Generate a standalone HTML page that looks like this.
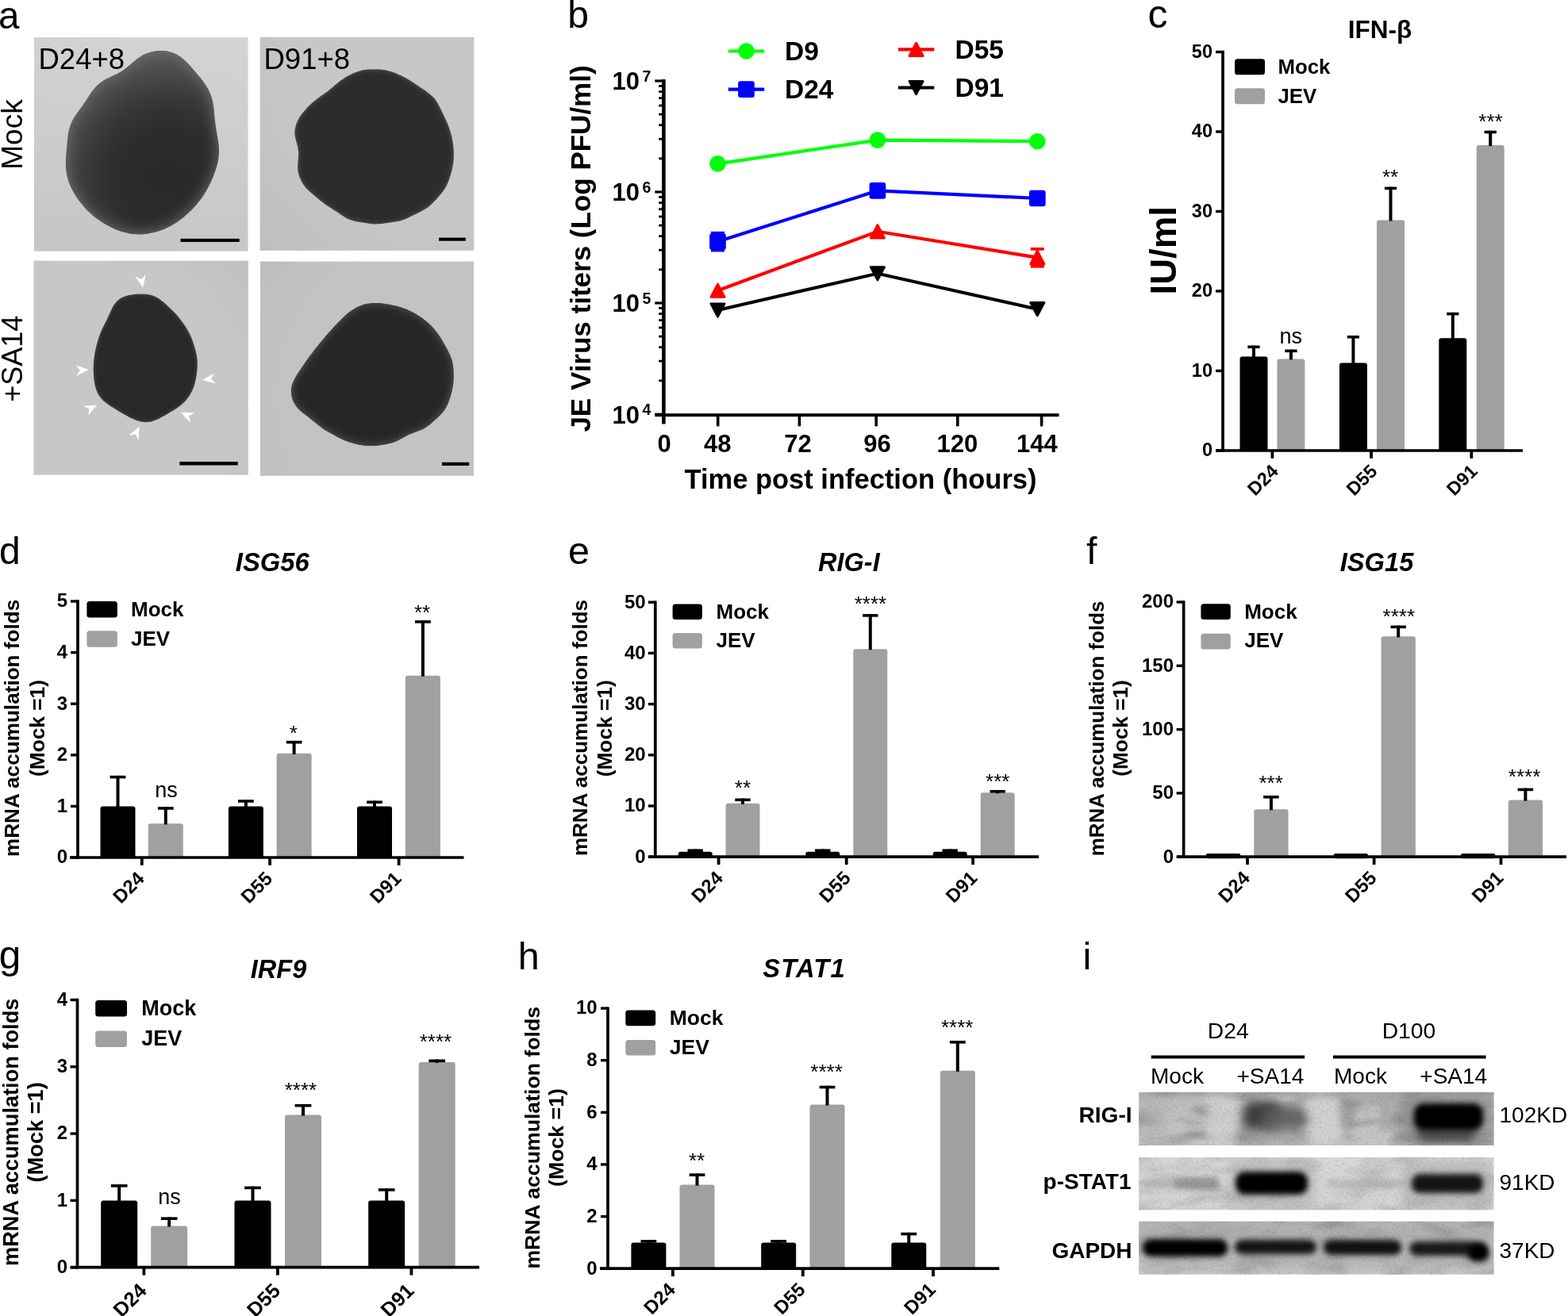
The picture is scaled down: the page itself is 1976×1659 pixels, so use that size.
<!DOCTYPE html>
<html><head><meta charset="utf-8"><title>Figure</title>
<style>html,body{margin:0;padding:0;background:#fff;overflow:hidden}svg{display:block}</style>
</head><body>
<svg width="1976" height="1659" viewBox="0 0 1976 1659" font-family="'Liberation Sans', Arial, Helvetica, sans-serif">
<defs><filter id="fe" x="-5%" y="-5%" width="110%" height="110%" color-interpolation-filters="sRGB"><feGaussianBlur stdDeviation="0.7"/></filter>
<filter id="fr" x="-20%" y="-20%" width="140%" height="140%"><feGaussianBlur stdDeviation="3.5"/></filter>
<radialGradient id="tlov" gradientUnits="userSpaceOnUse" cx="212" cy="225" r="165"><stop offset="0" stop-color="#282828"/><stop offset="0.4" stop-color="#2c2c2c"/><stop offset="0.62" stop-color="#383838"/><stop offset="0.8" stop-color="#4a4a4a"/><stop offset="1" stop-color="#5e5e5e"/></radialGradient>
<filter id="fn" x="0" y="0" width="100%" height="100%"><feTurbulence type="fractalNoise" baseFrequency="0.9" numOctaves="2" seed="3"/><feColorMatrix type="matrix" values="0 0 0 0 0.5  0 0 0 0 0.5  0 0 0 0 0.5  0 0 0 0.06 0"/></filter>
<linearGradient id="gA1" gradientUnits="userSpaceOnUse" x1="200" y1="47" x2="160" y2="317"><stop offset="0" stop-color="#d3d3d3"/><stop offset="1" stop-color="#c6c6c6"/></linearGradient>
<clipPath id="cA1"><path d="M189.59,65.69C191.13,65.28 192.71,64.94 194.29,64.67C195.88,64.41 197.49,64.22 199.1,64.1C200.7,63.99 202.32,63.95 203.91,63.99C205.51,64.03 207.1,64.14 208.66,64.33C210.22,64.53 211.76,64.8 213.26,65.15C214.76,65.51 216.24,65.94 217.67,66.46C219.1,66.97 220.49,67.57 221.84,68.24C223.2,68.92 224.51,69.68 225.78,70.5C227.06,71.32 228.29,72.23 229.5,73.18C230.71,74.14 231.88,75.17 233.03,76.23C234.18,77.29 235.29,78.41 236.4,79.55C237.5,80.69 238.58,81.87 239.65,83.06C240.72,84.24 241.77,85.45 242.82,86.66C243.87,87.87 244.9,89.09 245.93,90.31C246.97,91.52 247.99,92.74 249,93.95C250.02,95.17 251.03,96.38 252.02,97.6C253.01,98.82 253.99,100.03 254.94,101.27C255.89,102.51 256.83,103.75 257.73,105.02C258.62,106.29 259.5,107.58 260.32,108.9C261.13,110.23 261.92,111.57 262.64,112.96C263.37,114.34 264.04,115.76 264.66,117.21C265.27,118.66 265.83,120.14 266.32,121.65C266.82,123.16 267.25,124.7 267.63,126.25C268.01,127.8 268.33,129.38 268.61,130.96C268.89,132.54 269.11,134.14 269.31,135.73C269.52,137.32 269.67,138.91 269.83,140.49C269.99,142.08 270.11,143.66 270.26,145.23C270.4,146.8 270.53,148.36 270.68,149.91C270.83,151.47 270.99,153.01 271.18,154.55C271.36,156.1 271.57,157.63 271.79,159.17C272.02,160.71 272.27,162.24 272.53,163.79C272.79,165.33 273.07,166.88 273.35,168.44C273.63,169.99 273.92,171.55 274.19,173.13C274.46,174.7 274.73,176.28 274.96,177.86C275.19,179.44 275.41,181.03 275.57,182.62C275.73,184.21 275.86,185.8 275.93,187.38C276,188.97 276.02,190.55 275.98,192.13C275.95,193.7 275.85,195.27 275.7,196.83C275.55,198.38 275.34,199.93 275.08,201.47C274.81,203.01 274.49,204.53 274.14,206.05C273.78,207.57 273.37,209.07 272.92,210.58C272.48,212.08 272,213.57 271.49,215.06C270.98,216.55 270.44,218.03 269.87,219.5C269.31,220.98 268.72,222.45 268.11,223.92C267.5,225.38 266.86,226.84 266.21,228.29C265.56,229.74 264.88,231.19 264.19,232.62C263.49,234.05 262.77,235.47 262.02,236.87C261.28,238.27 260.51,239.66 259.71,241.02C258.92,242.39 258.1,243.73 257.25,245.06C256.4,246.38 255.52,247.69 254.61,248.97C253.71,250.25 252.78,251.51 251.82,252.75C250.86,254 249.88,255.21 248.87,256.42C247.86,257.62 246.83,258.8 245.78,259.97C244.72,261.13 243.65,262.28 242.55,263.41C241.46,264.55 240.34,265.66 239.21,266.76C238.07,267.86 236.92,268.94 235.75,270.01C234.57,271.07 233.38,272.11 232.17,273.13C230.95,274.15 229.72,275.15 228.47,276.12C227.22,277.09 225.94,278.03 224.65,278.94C223.36,279.85 222.04,280.73 220.71,281.57C219.38,282.42 218.02,283.23 216.65,284C215.28,284.77 213.89,285.51 212.48,286.21C211.07,286.9 209.64,287.57 208.2,288.19C206.76,288.82 205.31,289.4 203.84,289.95C202.37,290.5 200.88,291.02 199.38,291.49C197.89,291.97 196.38,292.4 194.86,292.8C193.34,293.2 191.81,293.56 190.27,293.87C188.73,294.18 187.18,294.45 185.62,294.68C184.07,294.9 182.5,295.08 180.93,295.2C179.36,295.33 177.79,295.4 176.21,295.42C174.64,295.44 173.05,295.41 171.48,295.33C169.9,295.24 168.33,295.09 166.76,294.9C165.19,294.7 163.63,294.45 162.08,294.16C160.52,293.86 158.98,293.5 157.45,293.11C155.92,292.72 154.4,292.27 152.9,291.8C151.4,291.32 149.92,290.79 148.45,290.24C146.98,289.68 145.52,289.09 144.09,288.47C142.65,287.85 141.23,287.19 139.82,286.51C138.41,285.83 137.02,285.11 135.64,284.37C134.27,283.63 132.9,282.85 131.55,282.05C130.2,281.25 128.87,280.42 127.55,279.55C126.23,278.69 124.93,277.8 123.64,276.87C122.36,275.95 121.09,274.99 119.84,274.01C118.59,273.02 117.36,272.01 116.16,270.96C114.96,269.92 113.78,268.85 112.63,267.76C111.48,266.66 110.35,265.54 109.25,264.4C108.15,263.27 107.08,262.1 106.04,260.93C105,259.75 103.99,258.55 103,257.34C102.01,256.12 101.06,254.89 100.12,253.64C99.19,252.4 98.28,251.13 97.4,249.85C96.52,248.56 95.67,247.26 94.84,245.93C94.02,244.61 93.21,243.26 92.45,241.89C91.68,240.52 90.94,239.12 90.24,237.7C89.54,236.28 88.88,234.84 88.26,233.38C87.65,231.91 87.07,230.42 86.55,228.91C86.03,227.41 85.56,225.88 85.15,224.35C84.74,222.81 84.38,221.25 84.08,219.7C83.79,218.15 83.55,216.58 83.37,215.02C83.19,213.45 83.07,211.89 82.99,210.32C82.92,208.76 82.9,207.2 82.91,205.65C82.91,204.09 82.97,202.54 83.04,200.98C83.11,199.43 83.21,197.88 83.32,196.33C83.42,194.78 83.55,193.22 83.67,191.66C83.79,190.1 83.92,188.54 84.05,186.97C84.18,185.39 84.31,183.81 84.44,182.22C84.58,180.64 84.72,179.04 84.88,177.45C85.04,175.86 85.2,174.25 85.4,172.67C85.61,171.08 85.83,169.49 86.11,167.92C86.39,166.35 86.7,164.79 87.08,163.27C87.47,161.74 87.9,160.23 88.4,158.76C88.9,157.28 89.47,155.84 90.09,154.43C90.72,153.02 91.42,151.64 92.17,150.29C92.91,148.94 93.72,147.63 94.56,146.32C95.4,145.02 96.3,143.75 97.2,142.47C98.1,141.2 99.04,139.94 99.97,138.67C100.9,137.4 101.84,136.14 102.77,134.86C103.7,133.58 104.62,132.29 105.52,130.98C106.43,129.67 107.32,128.35 108.2,127.02C109.07,125.69 109.93,124.34 110.8,123.01C111.66,121.67 112.51,120.32 113.39,119C114.26,117.68 115.14,116.37 116.06,115.1C116.98,113.83 117.92,112.59 118.92,111.4C119.92,110.22 120.95,109.08 122.05,108C123.15,106.93 124.3,105.91 125.51,104.95C126.72,103.99 128,103.1 129.32,102.25C130.63,101.41 132.01,100.63 133.41,99.86C134.81,99.1 136.27,98.4 137.72,97.68C139.17,96.97 140.65,96.3 142.11,95.59C143.57,94.89 145.05,94.2 146.48,93.46C147.91,92.72 149.34,91.97 150.72,91.17C152.1,90.38 153.45,89.54 154.76,88.67C156.08,87.8 157.35,86.88 158.6,85.93C159.84,84.99 161.05,84 162.25,83C163.45,82.01 164.62,80.97 165.8,79.96C166.98,78.95 168.14,77.92 169.33,76.93C170.52,75.94 171.72,74.96 172.96,74.03C174.19,73.11 175.45,72.21 176.76,71.38C178.06,70.56 179.4,69.78 180.79,69.07C182.18,68.37 183.61,67.73 185.07,67.17C186.54,66.6 188.06,66.11 189.59,65.69Z"/></clipPath>
<filter id="fbA1" x="-10%" y="-10%" width="120%" height="120%" color-interpolation-filters="sRGB"><feGaussianBlur stdDeviation="9"/></filter>
<radialGradient id="gA2" gradientUnits="userSpaceOnUse" cx="560" cy="90" r="420"><stop offset="0" stop-color="#c7c7c7"/><stop offset="0.45" stop-color="#c7c7c7"/><stop offset="1" stop-color="#b8b8b8"/></radialGradient>
<clipPath id="cA2"><path d="M471.14,87.38C472.63,87.39 474.14,87.43 475.63,87.5C477.13,87.57 478.62,87.66 480.1,87.8C481.58,87.94 483.05,88.1 484.5,88.33C485.95,88.55 487.39,88.82 488.81,89.15C490.23,89.48 491.63,89.86 493.03,90.29C494.42,90.73 495.81,91.22 497.18,91.75C498.56,92.28 499.93,92.86 501.29,93.45C502.66,94.05 504.02,94.69 505.36,95.33C506.7,95.98 508.04,96.65 509.35,97.34C510.66,98.03 511.96,98.73 513.24,99.46C514.52,100.19 515.78,100.94 517.02,101.71C518.27,102.49 519.49,103.28 520.71,104.09C521.94,104.9 523.15,105.74 524.37,106.57C525.59,107.41 526.81,108.26 528.05,109.1C529.28,109.94 530.52,110.78 531.76,111.62C533,112.45 534.26,113.28 535.49,114.12C536.71,114.96 537.95,115.79 539.13,116.67C540.31,117.55 541.48,118.43 542.58,119.38C543.68,120.33 544.74,121.31 545.73,122.36C546.72,123.41 547.65,124.52 548.52,125.69C549.4,126.85 550.21,128.08 550.99,129.34C551.76,130.6 552.48,131.91 553.18,133.23C553.89,134.54 554.55,135.89 555.21,137.22C555.88,138.55 556.52,139.89 557.16,141.22C557.81,142.55 558.44,143.87 559.08,145.19C559.71,146.51 560.34,147.82 560.96,149.15C561.58,150.48 562.19,151.81 562.78,153.16C563.37,154.52 563.95,155.89 564.49,157.27C565.04,158.66 565.56,160.07 566.06,161.48C566.55,162.9 567.01,164.33 567.44,165.75C567.87,167.18 568.27,168.61 568.64,170.03C569.01,171.46 569.35,172.88 569.65,174.3C569.96,175.72 570.23,177.14 570.47,178.58C570.72,180.01 570.93,181.45 571.11,182.9C571.29,184.36 571.44,185.83 571.55,187.31C571.66,188.8 571.74,190.3 571.79,191.8C571.83,193.3 571.84,194.81 571.81,196.31C571.78,197.8 571.71,199.3 571.6,200.77C571.49,202.24 571.35,203.7 571.16,205.14C570.98,206.58 570.75,208 570.49,209.42C570.24,210.84 569.94,212.24 569.61,213.66C569.29,215.08 568.92,216.5 568.53,217.93C568.15,219.35 567.73,220.8 567.28,222.23C566.83,223.67 566.35,225.12 565.84,226.53C565.33,227.95 564.78,229.36 564.2,230.73C563.61,232.09 562.99,233.43 562.31,234.71C561.64,236 560.92,237.24 560.15,238.44C559.39,239.65 558.57,240.81 557.71,241.96C556.85,243.11 555.94,244.22 555,245.35C554.07,246.47 553.09,247.59 552.09,248.71C551.1,249.82 550.07,250.95 549.04,252.06C548.01,253.16 546.96,254.27 545.89,255.34C544.83,256.4 543.75,257.44 542.65,258.42C541.55,259.39 540.44,260.32 539.29,261.19C538.14,262.05 536.97,262.84 535.75,263.6C534.54,264.35 533.29,265.04 532.02,265.72C530.74,266.41 529.42,267.04 528.09,267.7C526.76,268.36 525.4,269.01 524.04,269.68C522.68,270.35 521.31,271.04 519.95,271.72C518.6,272.39 517.24,273.09 515.9,273.75C514.55,274.4 513.22,275.05 511.89,275.63C510.55,276.21 509.22,276.76 507.87,277.23C506.52,277.7 505.17,278.1 503.78,278.45C502.39,278.81 500.98,279.08 499.54,279.35C498.1,279.62 496.63,279.83 495.14,280.06C493.66,280.28 492.14,280.49 490.64,280.7C489.13,280.91 487.61,281.14 486.11,281.34C484.62,281.55 483.13,281.77 481.66,281.93C480.19,282.1 478.75,282.26 477.31,282.35C475.88,282.43 474.47,282.47 473.04,282.45C471.62,282.43 470.2,282.33 468.76,282.2C467.32,282.07 465.87,281.87 464.4,281.67C462.93,281.46 461.43,281.21 459.93,280.97C458.43,280.74 456.91,280.49 455.41,280.25C453.9,280 452.39,279.77 450.92,279.51C449.45,279.25 448,278.99 446.59,278.67C445.17,278.34 443.8,277.99 442.46,277.55C441.12,277.1 439.82,276.6 438.54,276C437.25,275.4 436,274.71 434.74,273.97C433.49,273.23 432.25,272.39 430.99,271.55C429.74,270.71 428.48,269.81 427.22,268.95C425.96,268.08 424.68,267.2 423.42,266.36C422.15,265.52 420.88,264.7 419.63,263.9C418.39,263.1 417.14,262.34 415.92,261.56C414.7,260.79 413.5,260.03 412.31,259.23C411.13,258.43 409.96,257.62 408.79,256.76C407.63,255.91 406.47,255.01 405.31,254.09C404.15,253.16 402.98,252.19 401.82,251.22C400.65,250.25 399.47,249.25 398.3,248.27C397.13,247.29 395.95,246.3 394.8,245.33C393.66,244.36 392.51,243.41 391.41,242.44C390.32,241.47 389.24,240.52 388.22,239.52C387.2,238.52 386.22,237.52 385.29,236.44C384.37,235.37 383.49,234.25 382.67,233.07C381.85,231.89 381.07,230.64 380.36,229.34C379.65,228.04 378.98,226.67 378.4,225.29C377.81,223.9 377.28,222.46 376.85,221.03C376.41,219.6 376.05,218.14 375.78,216.7C375.51,215.25 375.34,213.81 375.24,212.37C375.15,210.93 375.16,209.5 375.21,208.06C375.25,206.62 375.4,205.19 375.52,203.74C375.64,202.29 375.83,200.84 375.94,199.37C376.05,197.9 376.17,196.42 376.18,194.95C376.19,193.47 376.15,191.98 376.01,190.52C375.88,189.05 375.64,187.58 375.36,186.14C375.08,184.69 374.7,183.27 374.33,181.84C373.96,180.42 373.51,179.02 373.15,177.61C372.78,176.2 372.4,174.8 372.13,173.37C371.87,171.95 371.65,170.51 371.56,169.06C371.47,167.61 371.48,166.14 371.6,164.67C371.73,163.2 371.97,161.71 372.3,160.25C372.63,158.79 373.08,157.33 373.58,155.92C374.09,154.51 374.7,153.13 375.34,151.8C375.99,150.47 376.71,149.19 377.47,147.95C378.23,146.71 379.04,145.53 379.88,144.36C380.73,143.2 381.62,142.07 382.54,140.96C383.46,139.84 384.42,138.74 385.41,137.65C386.41,136.56 387.43,135.47 388.49,134.4C389.54,133.33 390.62,132.27 391.72,131.24C392.82,130.21 393.95,129.2 395.08,128.22C396.22,127.25 397.38,126.32 398.54,125.41C399.7,124.51 400.88,123.65 402.06,122.8C403.24,121.95 404.44,121.14 405.63,120.3C406.82,119.47 408.02,118.65 409.21,117.79C410.4,116.94 411.6,116.07 412.78,115.16C413.96,114.26 415.14,113.32 416.3,112.37C417.46,111.41 418.61,110.42 419.75,109.45C420.89,108.48 422.02,107.48 423.15,106.53C424.29,105.57 425.41,104.62 426.55,103.71C427.7,102.8 428.85,101.92 430.02,101.07C431.2,100.22 432.4,99.41 433.63,98.63C434.86,97.84 436.12,97.09 437.4,96.36C438.69,95.63 440,94.92 441.34,94.24C442.67,93.57 444.03,92.91 445.4,92.31C446.77,91.71 448.16,91.14 449.55,90.63C450.94,90.13 452.34,89.67 453.75,89.28C455.15,88.9 456.56,88.57 457.99,88.31C459.42,88.05 460.85,87.86 462.3,87.72C463.75,87.57 465.21,87.49 466.69,87.43C468.16,87.37 469.65,87.37 471.14,87.38Z"/></clipPath>
<filter id="fbA2" x="-10%" y="-10%" width="120%" height="120%" color-interpolation-filters="sRGB"><feGaussianBlur stdDeviation="3"/></filter>
<radialGradient id="gA3" gradientUnits="userSpaceOnUse" cx="100" cy="520" r="420"><stop offset="0" stop-color="#c7c7c7"/><stop offset="0.45" stop-color="#c7c7c7"/><stop offset="1" stop-color="#b8b8b8"/></radialGradient>
<clipPath id="cA3"><path d="M176.47,370.7C177.56,370.67 178.66,370.65 179.75,370.67C180.84,370.68 181.94,370.72 183.03,370.81C184.12,370.89 185.21,371.01 186.29,371.17C187.37,371.34 188.45,371.55 189.5,371.82C190.56,372.08 191.6,372.4 192.62,372.76C193.64,373.13 194.65,373.55 195.62,374.02C196.6,374.48 197.56,375 198.5,375.55C199.43,376.1 200.34,376.71 201.24,377.33C202.13,377.95 203.01,378.61 203.87,379.28C204.73,379.95 205.58,380.64 206.42,381.35C207.26,382.05 208.08,382.77 208.91,383.49C209.73,384.21 210.54,384.95 211.35,385.68C212.16,386.42 212.97,387.16 213.77,387.91C214.56,388.66 215.35,389.41 216.14,390.18C216.92,390.94 217.69,391.71 218.45,392.49C219.21,393.28 219.97,394.07 220.71,394.87C221.44,395.68 222.17,396.49 222.89,397.32C223.6,398.14 224.31,398.98 225,399.82C225.69,400.67 226.37,401.53 227.04,402.39C227.72,403.25 228.38,404.12 229.03,405C229.69,405.88 230.33,406.76 230.96,407.65C231.6,408.55 232.22,409.44 232.83,410.35C233.44,411.26 234.04,412.17 234.63,413.1C235.21,414.02 235.78,414.95 236.32,415.89C236.87,416.84 237.4,417.79 237.91,418.76C238.41,419.72 238.9,420.7 239.36,421.69C239.83,422.67 240.27,423.67 240.69,424.68C241.12,425.68 241.52,426.7 241.91,427.72C242.3,428.75 242.67,429.78 243.03,430.81C243.39,431.84 243.74,432.88 244.08,433.93C244.41,434.97 244.74,436.01 245.05,437.06C245.37,438.11 245.68,439.16 245.97,440.21C246.26,441.26 246.54,442.32 246.79,443.38C247.05,444.44 247.29,445.5 247.51,446.56C247.72,447.63 247.92,448.7 248.08,449.78C248.24,450.85 248.38,451.93 248.48,453.01C248.59,454.1 248.66,455.19 248.71,456.28C248.76,457.37 248.77,458.46 248.76,459.55C248.76,460.65 248.72,461.74 248.66,462.84C248.61,463.93 248.53,465.03 248.43,466.12C248.34,467.21 248.23,468.3 248.1,469.39C247.97,470.47 247.83,471.56 247.68,472.64C247.52,473.72 247.36,474.79 247.17,475.87C246.99,476.94 246.79,478.01 246.56,479.08C246.34,480.14 246.1,481.2 245.83,482.26C245.56,483.31 245.27,484.36 244.95,485.4C244.63,486.44 244.28,487.48 243.9,488.5C243.51,489.52 243.1,490.53 242.65,491.53C242.21,492.52 241.73,493.51 241.22,494.47C240.71,495.44 240.17,496.39 239.6,497.32C239.03,498.25 238.43,499.16 237.81,500.05C237.18,500.93 236.53,501.8 235.85,502.65C235.18,503.5 234.47,504.32 233.75,505.13C233.02,505.93 232.27,506.71 231.49,507.47C230.72,508.23 229.92,508.97 229.1,509.68C228.29,510.4 227.44,511.1 226.59,511.77C225.73,512.45 224.85,513.1 223.96,513.74C223.07,514.38 222.16,515 221.24,515.6C220.33,516.21 219.4,516.8 218.46,517.38C217.53,517.96 216.59,518.52 215.65,519.08C214.72,519.64 213.77,520.19 212.83,520.74C211.89,521.29 210.95,521.84 210,522.38C209.06,522.92 208.12,523.46 207.17,524C206.22,524.53 205.28,525.07 204.32,525.6C203.36,526.12 202.4,526.64 201.42,527.14C200.44,527.64 199.46,528.13 198.46,528.59C197.46,529.04 196.44,529.48 195.42,529.87C194.39,530.26 193.35,530.62 192.3,530.93C191.25,531.23 190.19,531.49 189.12,531.68C188.05,531.88 186.97,532.02 185.89,532.1C184.82,532.18 183.73,532.19 182.65,532.15C181.58,532.11 180.5,532 179.43,531.84C178.36,531.69 177.3,531.47 176.25,531.21C175.19,530.95 174.15,530.64 173.11,530.3C172.08,529.96 171.05,529.57 170.04,529.16C169.02,528.76 168.02,528.31 167.02,527.86C166.02,527.4 165.03,526.92 164.05,526.43C163.07,525.94 162.1,525.43 161.14,524.92C160.17,524.4 159.21,523.88 158.26,523.34C157.3,522.81 156.36,522.27 155.41,521.72C154.47,521.17 153.53,520.62 152.59,520.06C151.65,519.5 150.72,518.94 149.78,518.38C148.85,517.81 147.92,517.24 146.98,516.67C146.05,516.1 145.12,515.53 144.19,514.95C143.25,514.37 142.32,513.8 141.39,513.21C140.46,512.62 139.53,512.03 138.61,511.43C137.7,510.82 136.78,510.21 135.89,509.58C134.99,508.94 134.1,508.3 133.24,507.62C132.39,506.95 131.54,506.26 130.74,505.53C129.93,504.8 129.15,504.05 128.42,503.26C127.68,502.47 126.98,501.65 126.32,500.8C125.67,499.95 125.06,499.06 124.49,498.14C123.93,497.22 123.41,496.27 122.94,495.3C122.46,494.32 122.03,493.31 121.65,492.3C121.26,491.28 120.92,490.23 120.61,489.18C120.3,488.13 120.03,487.06 119.78,485.99C119.54,484.91 119.33,483.83 119.15,482.75C118.96,481.67 118.8,480.58 118.66,479.5C118.52,478.41 118.4,477.33 118.29,476.24C118.19,475.16 118.1,474.07 118.03,472.99C117.96,471.9 117.91,470.82 117.87,469.73C117.82,468.64 117.8,467.55 117.79,466.46C117.77,465.37 117.78,464.28 117.79,463.19C117.81,462.1 117.84,461 117.89,459.91C117.94,458.81 118.01,457.72 118.09,456.62C118.17,455.53 118.27,454.44 118.38,453.35C118.49,452.26 118.62,451.17 118.77,450.08C118.91,449 119.08,447.91 119.25,446.83C119.43,445.75 119.62,444.68 119.83,443.6C120.04,442.53 120.26,441.46 120.49,440.4C120.72,439.33 120.97,438.27 121.22,437.21C121.48,436.14 121.75,435.09 122.03,434.03C122.31,432.97 122.6,431.92 122.9,430.87C123.2,429.82 123.51,428.77 123.84,427.73C124.16,426.69 124.5,425.65 124.85,424.61C125.21,423.58 125.58,422.55 125.96,421.52C126.35,420.5 126.75,419.48 127.17,418.47C127.58,417.46 128.02,416.45 128.47,415.45C128.92,414.45 129.39,413.46 129.86,412.47C130.34,411.48 130.83,410.5 131.32,409.52C131.81,408.54 132.31,407.57 132.81,406.59C133.3,405.61 133.8,404.64 134.28,403.66C134.77,402.68 135.25,401.7 135.72,400.72C136.19,399.73 136.64,398.74 137.1,397.75C137.55,396.76 137.99,395.76 138.43,394.77C138.88,393.77 139.31,392.77 139.76,391.78C140.22,390.78 140.67,389.79 141.16,388.81C141.65,387.84 142.15,386.87 142.7,385.93C143.25,384.99 143.82,384.07 144.45,383.19C145.08,382.31 145.74,381.46 146.46,380.66C147.19,379.86 147.96,379.1 148.77,378.41C149.59,377.71 150.46,377.06 151.36,376.47C152.26,375.89 153.22,375.36 154.19,374.89C155.16,374.41 156.18,374 157.2,373.64C158.22,373.27 159.28,372.96 160.33,372.69C161.38,372.42 162.45,372.19 163.52,371.99C164.59,371.79 165.67,371.63 166.74,371.49C167.82,371.34 168.89,371.22 169.97,371.12C171.05,371.01 172.13,370.93 173.21,370.86C174.3,370.79 175.38,370.73 176.47,370.7Z"/></clipPath>
<filter id="fbA3" x="-10%" y="-10%" width="120%" height="120%" color-interpolation-filters="sRGB"><feGaussianBlur stdDeviation="2.5"/></filter>
<radialGradient id="gA4" gradientUnits="userSpaceOnUse" cx="560" cy="500" r="450"><stop offset="0" stop-color="#c3c3c3"/><stop offset="0.45" stop-color="#c3c3c3"/><stop offset="1" stop-color="#b3b3b3"/></radialGradient>
<clipPath id="cA4"><path d="M469.71,381.98C471.11,381.9 472.5,381.88 473.89,381.9C475.27,381.92 476.65,382 478.03,382.11C479.42,382.21 480.79,382.37 482.18,382.54C483.57,382.71 484.96,382.92 486.36,383.14C487.76,383.37 489.16,383.61 490.57,383.87C491.97,384.13 493.38,384.4 494.78,384.7C496.18,384.99 497.58,385.29 498.96,385.62C500.34,385.95 501.71,386.3 503.06,386.68C504.41,387.06 505.74,387.46 507.06,387.9C508.37,388.34 509.67,388.81 510.97,389.33C512.26,389.84 513.54,390.39 514.81,390.97C516.09,391.55 517.35,392.17 518.61,392.82C519.87,393.47 521.13,394.15 522.37,394.85C523.61,395.56 524.85,396.29 526.06,397.03C527.28,397.78 528.48,398.55 529.65,399.33C530.82,400.11 531.98,400.91 533.11,401.74C534.23,402.56 535.34,403.4 536.42,404.27C537.5,405.14 538.56,406.04 539.6,406.97C540.64,407.89 541.66,408.85 542.66,409.84C543.66,410.83 544.64,411.85 545.6,412.9C546.56,413.95 547.5,415.04 548.4,416.14C549.31,417.24 550.19,418.37 551.04,419.51C551.88,420.65 552.7,421.81 553.49,422.97C554.28,424.13 555.03,425.31 555.77,426.49C556.51,427.68 557.22,428.87 557.92,430.07C558.63,431.27 559.31,432.47 560,433.69C560.69,434.91 561.38,436.14 562.06,437.39C562.73,438.63 563.42,439.89 564.07,441.16C564.73,442.43 565.38,443.71 565.99,445C566.6,446.3 567.19,447.6 567.72,448.91C568.25,450.22 568.74,451.53 569.17,452.86C569.59,454.19 569.96,455.52 570.26,456.86C570.57,458.21 570.82,459.56 571.02,460.93C571.22,462.3 571.36,463.68 571.47,465.07C571.59,466.47 571.66,467.88 571.7,469.3C571.75,470.72 571.76,472.15 571.75,473.58C571.74,475.01 571.7,476.46 571.64,477.88C571.57,479.31 571.48,480.73 571.35,482.14C571.22,483.54 571.05,484.94 570.85,486.32C570.65,487.7 570.41,489.06 570.14,490.42C569.87,491.78 569.55,493.12 569.22,494.47C568.88,495.82 568.51,497.17 568.11,498.52C567.72,499.87 567.3,501.23 566.85,502.58C566.4,503.93 565.93,505.3 565.41,506.63C564.9,507.96 564.36,509.29 563.76,510.58C563.16,511.86 562.52,513.12 561.83,514.33C561.13,515.54 560.37,516.71 559.56,517.83C558.75,518.95 557.88,520.01 556.96,521.05C556.05,522.09 555.08,523.07 554.08,524.06C553.09,525.04 552.05,525.99 551.01,526.94C549.97,527.9 548.91,528.85 547.84,529.79C546.77,530.74 545.7,531.7 544.62,532.63C543.53,533.56 542.45,534.5 541.34,535.38C540.23,536.27 539.11,537.14 537.95,537.93C536.8,538.73 535.62,539.48 534.41,540.17C533.2,540.85 531.96,541.46 530.69,542.03C529.42,542.59 528.12,543.08 526.81,543.58C525.51,544.07 524.17,544.5 522.86,544.97C521.54,545.45 520.22,545.9 518.92,546.41C517.63,546.93 516.34,547.47 515.08,548.06C513.82,548.64 512.58,549.29 511.34,549.94C510.11,550.6 508.9,551.31 507.67,552C506.44,552.69 505.23,553.41 503.99,554.07C502.74,554.73 501.49,555.38 500.21,555.96C498.93,556.54 497.63,557.07 496.31,557.55C494.98,558.02 493.63,558.43 492.27,558.8C490.9,559.17 489.51,559.48 488.13,559.77C486.74,560.06 485.34,560.31 483.94,560.54C482.55,560.78 481.15,560.99 479.75,561.19C478.35,561.38 476.96,561.56 475.57,561.71C474.18,561.86 472.79,561.99 471.39,562.07C470,562.16 468.61,562.21 467.21,562.22C465.81,562.22 464.41,562.18 463.01,562.09C461.6,562 460.2,561.86 458.79,561.69C457.39,561.52 455.98,561.3 454.58,561.05C453.18,560.81 451.79,560.53 450.4,560.22C449.02,559.92 447.64,559.6 446.28,559.24C444.92,558.89 443.57,558.51 442.23,558.1C440.89,557.69 439.57,557.26 438.26,556.78C436.95,556.31 435.65,555.8 434.36,555.26C433.06,554.71 431.78,554.13 430.51,553.52C429.23,552.92 427.97,552.28 426.7,551.63C425.44,550.98 424.18,550.31 422.92,549.63C421.67,548.96 420.42,548.28 419.17,547.6C417.93,546.92 416.69,546.24 415.46,545.54C414.24,544.85 413.02,544.16 411.82,543.44C410.61,542.72 409.43,541.99 408.25,541.22C407.08,540.45 405.93,539.66 404.79,538.84C403.65,538.02 402.53,537.16 401.42,536.29C400.31,535.42 399.21,534.52 398.11,533.62C397.01,532.72 395.92,531.8 394.82,530.9C393.72,530 392.62,529.1 391.5,528.22C390.39,527.34 389.27,526.48 388.15,525.62C387.03,524.77 385.89,523.94 384.78,523.09C383.66,522.24 382.54,521.4 381.46,520.52C380.38,519.64 379.3,518.75 378.28,517.8C377.26,516.85 376.27,515.86 375.34,514.81C374.42,513.77 373.54,512.66 372.74,511.51C371.94,510.36 371.2,509.14 370.54,507.89C369.88,506.64 369.3,505.34 368.8,504.02C368.31,502.7 367.89,501.34 367.58,499.98C367.26,498.62 367.03,497.23 366.91,495.86C366.79,494.48 366.76,493.1 366.84,491.73C366.92,490.36 367.11,488.99 367.38,487.64C367.66,486.29 368.05,484.95 368.5,483.63C368.96,482.31 369.51,481 370.11,479.72C370.71,478.44 371.39,477.17 372.09,475.93C372.78,474.69 373.54,473.47 374.29,472.26C375.04,471.05 375.82,469.87 376.6,468.69C377.37,467.51 378.16,466.35 378.94,465.19C379.72,464.03 380.5,462.88 381.29,461.72C382.07,460.56 382.86,459.41 383.65,458.25C384.45,457.1 385.25,455.93 386.07,454.78C386.88,453.62 387.71,452.46 388.54,451.3C389.38,450.15 390.23,448.99 391.08,447.85C391.93,446.71 392.79,445.58 393.65,444.45C394.51,443.33 395.38,442.22 396.24,441.11C397.11,440 397.97,438.91 398.84,437.82C399.71,436.72 400.58,435.63 401.46,434.54C402.34,433.45 403.23,432.37 404.12,431.28C405.02,430.19 405.92,429.1 406.84,428.01C407.75,426.92 408.67,425.83 409.6,424.74C410.52,423.66 411.46,422.57 412.39,421.5C413.32,420.43 414.26,419.36 415.19,418.3C416.12,417.24 417.06,416.2 417.99,415.16C418.93,414.11 419.86,413.08 420.81,412.05C421.75,411.03 422.7,410 423.66,408.98C424.62,407.96 425.59,406.95 426.58,405.93C427.56,404.92 428.57,403.91 429.58,402.9C430.59,401.9 431.62,400.9 432.66,399.92C433.7,398.94 434.75,397.97 435.81,397.03C436.88,396.09 437.95,395.17 439.04,394.29C440.13,393.4 441.22,392.54 442.35,391.73C443.47,390.92 444.61,390.15 445.79,389.42C446.96,388.7 448.16,388.01 449.4,387.38C450.63,386.75 451.9,386.17 453.2,385.64C454.5,385.11 455.84,384.63 457.19,384.21C458.54,383.79 459.93,383.43 461.32,383.12C462.71,382.82 464.11,382.57 465.51,382.38C466.91,382.19 468.32,382.06 469.71,381.98Z"/></clipPath>
<filter id="fbA4" x="-10%" y="-10%" width="120%" height="120%" color-interpolation-filters="sRGB"><feGaussianBlur stdDeviation="6"/></filter>
<filter id="b2" x="-50%" y="-80%" width="200%" height="260%" color-interpolation-filters="sRGB"><feGaussianBlur stdDeviation="2.5"/></filter>
<filter id="b3" x="-50%" y="-80%" width="200%" height="260%" color-interpolation-filters="sRGB"><feGaussianBlur stdDeviation="3.5"/></filter>
<filter id="b4" x="-50%" y="-80%" width="200%" height="260%" color-interpolation-filters="sRGB"><feGaussianBlur stdDeviation="6"/></filter>
<filter id="b5" x="-50%" y="-80%" width="200%" height="260%" color-interpolation-filters="sRGB"><feGaussianBlur stdDeviation="9"/></filter>
<filter id="wn" x="0" y="0" width="100%" height="100%"><feTurbulence type="fractalNoise" baseFrequency="0.35" numOctaves="3" seed="7"/><feColorMatrix type="matrix" values="0 0 0 0 0  0 0 0 0 0  0 0 0 0 0  0.9 0 0 0 -0.38"/></filter>
<filter id="wm" x="0" y="0" width="100%" height="100%"><feTurbulence type="fractalNoise" baseFrequency="0.02 0.05" numOctaves="2" seed="11"/><feColorMatrix type="matrix" values="0 0 0 0 0  0 0 0 0 0  0 0 0 0 0  1.2 0 0 0 -0.5"/></filter>
<linearGradient id="wb0" x1="0" y1="0" x2="0" y2="1"><stop offset="0" stop-color="#bcbcbc"/><stop offset="1" stop-color="#c8c8c8"/></linearGradient>
<clipPath id="cw0"><rect x="1435.1" y="1376.8" width="447.6" height="67.3"/></clipPath>
<linearGradient id="wb1" x1="0" y1="0" x2="0" y2="1"><stop offset="0" stop-color="#dadada"/><stop offset="1" stop-color="#d4d4d4"/></linearGradient>
<clipPath id="cw1"><rect x="1435.1" y="1458.7" width="447.6" height="66.8"/></clipPath>
<linearGradient id="wb2" x1="0" y1="0" x2="0" y2="1"><stop offset="0" stop-color="#b8b8b8"/><stop offset="1" stop-color="#cdcdcd"/></linearGradient>
<clipPath id="cw2"><rect x="1435.1" y="1539.6" width="447.6" height="67.2"/></clipPath></defs>
<rect width="1976" height="1659" fill="#fff"/>
<text x="-2.1" y="35.6" font-size="47.5">a</text>
<path d="M1562.5,568 V452.41 Q1562.5,449.41 1565.5,449.41 H1594.5 Q1597.5,449.41 1597.5,452.41 V568 Z" fill="#000"/>
<line x1="1580" y1="450.41" x2="1580" y2="435.65" stroke="#000" stroke-width="4"/>
<line x1="1572.35" y1="437.35" x2="1587.65" y2="437.35" stroke="#000" stroke-width="3.6"/>
<path d="M1609.4,568 V455.43 Q1609.4,452.43 1612.4,452.43 H1641.4 Q1644.4,452.43 1644.4,455.43 V568 Z" fill="#a0a0a0"/>
<line x1="1626.9" y1="453.43" x2="1626.9" y2="440.68" stroke="#000" stroke-width="4"/>
<line x1="1619.25" y1="442.38" x2="1634.55" y2="442.38" stroke="#000" stroke-width="3.6"/>
<path d="M1687.9,568 V460.45 Q1687.9,457.45 1690.9,457.45 H1719.9 Q1722.9,457.45 1722.9,460.45 V568 Z" fill="#000"/>
<line x1="1705.4" y1="458.45" x2="1705.4" y2="423.09" stroke="#000" stroke-width="4"/>
<line x1="1697.75" y1="424.79" x2="1713.05" y2="424.79" stroke="#000" stroke-width="3.6"/>
<path d="M1735,568 V280.56 Q1735,277.56 1738,277.56 H1767 Q1770,277.56 1770,280.56 V568 Z" fill="#a0a0a0"/>
<line x1="1752.5" y1="278.56" x2="1752.5" y2="235.66" stroke="#000" stroke-width="4"/>
<line x1="1744.85" y1="237.36" x2="1760.15" y2="237.36" stroke="#000" stroke-width="3.6"/>
<path d="M1813.3,568 V429.29 Q1813.3,426.29 1816.3,426.29 H1845.3 Q1848.3,426.29 1848.3,429.29 V568 Z" fill="#000"/>
<line x1="1830.8" y1="427.29" x2="1830.8" y2="393.94" stroke="#000" stroke-width="4"/>
<line x1="1823.15" y1="395.64" x2="1838.45" y2="395.64" stroke="#000" stroke-width="3.6"/>
<path d="M1860.7,568 V186.08 Q1860.7,183.08 1863.7,183.08 H1892.7 Q1895.7,183.08 1895.7,186.08 V568 Z" fill="#a0a0a0"/>
<line x1="1878.2" y1="184.08" x2="1878.2" y2="164.8" stroke="#000" stroke-width="4"/>
<line x1="1870.55" y1="166.5" x2="1885.85" y2="166.5" stroke="#000" stroke-width="3.6"/>
<line x1="1541" y1="63.8" x2="1541" y2="569.85" stroke="#000" stroke-width="3.7"/>
<line x1="1532" y1="568" x2="1541" y2="568" stroke="#000" stroke-width="3.4"/>
<text x="1528" y="575.21" font-size="23.5" font-weight="bold" text-anchor="end">0</text>
<line x1="1532" y1="467.5" x2="1541" y2="467.5" stroke="#000" stroke-width="3.4"/>
<text x="1528" y="474.71" font-size="23.5" font-weight="bold" text-anchor="end">10</text>
<line x1="1532" y1="367" x2="1541" y2="367" stroke="#000" stroke-width="3.4"/>
<text x="1528" y="374.21" font-size="23.5" font-weight="bold" text-anchor="end">20</text>
<line x1="1532" y1="266.5" x2="1541" y2="266.5" stroke="#000" stroke-width="3.4"/>
<text x="1528" y="273.71" font-size="23.5" font-weight="bold" text-anchor="end">30</text>
<line x1="1532" y1="166" x2="1541" y2="166" stroke="#000" stroke-width="3.4"/>
<text x="1528" y="173.21" font-size="23.5" font-weight="bold" text-anchor="end">40</text>
<line x1="1532" y1="65.5" x2="1541" y2="65.5" stroke="#000" stroke-width="3.4"/>
<text x="1528" y="72.71" font-size="23.5" font-weight="bold" text-anchor="end">50</text>
<line x1="1532" y1="568" x2="1919" y2="568" stroke="#000" stroke-width="3.7"/>
<line x1="1603.4" y1="568" x2="1603.4" y2="577.85" stroke="#000" stroke-width="3.8"/>
<text x="0" y="8.41" font-size="23.5" font-weight="bold" text-anchor="end" transform="translate(1606.4 589.5) rotate(-45)">D24</text>
<line x1="1728" y1="568" x2="1728" y2="577.85" stroke="#000" stroke-width="3.8"/>
<text x="0" y="8.41" font-size="23.5" font-weight="bold" text-anchor="end" transform="translate(1731 589.5) rotate(-45)">D55</text>
<line x1="1854.3" y1="568" x2="1854.3" y2="577.85" stroke="#000" stroke-width="3.8"/>
<text x="0" y="8.41" font-size="23.5" font-weight="bold" text-anchor="end" transform="translate(1857.3 589.5) rotate(-45)">D91</text>
<text x="1626.8" y="432.6" font-size="27" text-anchor="middle">ns</text>
<text x="1752" y="232" font-size="26" text-anchor="middle">**</text>
<text x="1878.5" y="161.5" font-size="26" text-anchor="middle">***</text>
<rect x="1556" y="74.3" width="38" height="20" fill="#000" rx="3.5"/>
<rect x="1556" y="111.2" width="38" height="20" fill="#a0a0a0" rx="3.5"/>
<text x="1610.5" y="93.3" font-size="25.8" font-weight="bold">Mock</text>
<text x="1610.5" y="130" font-size="25.8" font-weight="bold">JEV</text>
<text x="1739" y="47.8" font-size="31.5" font-weight="bold" text-anchor="middle">IFN-&#946;</text>
<text x="0" y="0" font-size="45.5" font-weight="bold" text-anchor="middle" transform="translate(1482.3 315.8) rotate(-90)">IU/ml</text>
<text x="1446.5" y="35.3" font-size="50">c</text>
<path d="M126.5,1081 V1019.4 Q126.5,1016.4 129.5,1016.4 H167.5 Q170.5,1016.4 170.5,1019.4 V1081 Z" fill="#000"/>
<line x1="148.5" y1="1017.4" x2="148.5" y2="977.88" stroke="#000" stroke-width="4"/>
<line x1="138.6" y1="979.58" x2="158.4" y2="979.58" stroke="#000" stroke-width="3.6"/>
<path d="M186.8,1081 V1041.36 Q186.8,1038.36 189.8,1038.36 H227.8 Q230.8,1038.36 230.8,1041.36 V1081 Z" fill="#a0a0a0"/>
<line x1="208.8" y1="1039.36" x2="208.8" y2="1017.28" stroke="#000" stroke-width="4"/>
<line x1="198.9" y1="1018.98" x2="218.7" y2="1018.98" stroke="#000" stroke-width="3.6"/>
<path d="M287.9,1081 V1019.4 Q287.9,1016.4 290.9,1016.4 H328.9 Q331.9,1016.4 331.9,1019.4 V1081 Z" fill="#000"/>
<line x1="309.9" y1="1017.4" x2="309.9" y2="1008.24" stroke="#000" stroke-width="4"/>
<line x1="300" y1="1009.94" x2="319.8" y2="1009.94" stroke="#000" stroke-width="3.6"/>
<path d="M348.6,1081 V952.86 Q348.6,949.86 351.6,949.86 H389.6 Q392.6,949.86 392.6,952.86 V1081 Z" fill="#a0a0a0"/>
<line x1="370.6" y1="950.86" x2="370.6" y2="933.95" stroke="#000" stroke-width="4"/>
<line x1="360.7" y1="935.65" x2="380.5" y2="935.65" stroke="#000" stroke-width="3.6"/>
<path d="M450,1081 V1019.4 Q450,1016.4 453,1016.4 H491 Q494,1016.4 494,1019.4 V1081 Z" fill="#000"/>
<line x1="472" y1="1017.4" x2="472" y2="1009.53" stroke="#000" stroke-width="4"/>
<line x1="462.1" y1="1011.23" x2="481.9" y2="1011.23" stroke="#000" stroke-width="3.6"/>
<path d="M510.9,1081 V854.67 Q510.9,851.67 513.9,851.67 H551.9 Q554.9,851.67 554.9,854.67 V1081 Z" fill="#a0a0a0"/>
<line x1="532.9" y1="852.67" x2="532.9" y2="782.14" stroke="#000" stroke-width="4"/>
<line x1="523" y1="783.84" x2="542.8" y2="783.84" stroke="#000" stroke-width="3.6"/>
<line x1="98" y1="756.3" x2="98" y2="1082.85" stroke="#000" stroke-width="3.7"/>
<line x1="89" y1="1081" x2="98" y2="1081" stroke="#000" stroke-width="3.4"/>
<text x="85" y="1088.39" font-size="24" font-weight="bold" text-anchor="end">0</text>
<line x1="89" y1="1016.4" x2="98" y2="1016.4" stroke="#000" stroke-width="3.4"/>
<text x="85" y="1023.79" font-size="24" font-weight="bold" text-anchor="end">1</text>
<line x1="89" y1="951.8" x2="98" y2="951.8" stroke="#000" stroke-width="3.4"/>
<text x="85" y="959.19" font-size="24" font-weight="bold" text-anchor="end">2</text>
<line x1="89" y1="887.2" x2="98" y2="887.2" stroke="#000" stroke-width="3.4"/>
<text x="85" y="894.59" font-size="24" font-weight="bold" text-anchor="end">3</text>
<line x1="89" y1="822.6" x2="98" y2="822.6" stroke="#000" stroke-width="3.4"/>
<text x="85" y="829.99" font-size="24" font-weight="bold" text-anchor="end">4</text>
<line x1="89" y1="758" x2="98" y2="758" stroke="#000" stroke-width="3.4"/>
<text x="85" y="765.39" font-size="24" font-weight="bold" text-anchor="end">5</text>
<line x1="88" y1="1081" x2="584.5" y2="1081" stroke="#000" stroke-width="3.7"/>
<line x1="178.8" y1="1081" x2="178.8" y2="1090.85" stroke="#000" stroke-width="3.8"/>
<text x="0" y="8.59" font-size="24" font-weight="bold" text-anchor="end" transform="translate(177.2 1103) rotate(-45)">D24</text>
<line x1="340.1" y1="1081" x2="340.1" y2="1090.85" stroke="#000" stroke-width="3.8"/>
<text x="0" y="8.59" font-size="24" font-weight="bold" text-anchor="end" transform="translate(338.5 1103) rotate(-45)">D55</text>
<line x1="502.6" y1="1081" x2="502.6" y2="1090.85" stroke="#000" stroke-width="3.8"/>
<text x="0" y="8.59" font-size="24" font-weight="bold" text-anchor="end" transform="translate(501 1103) rotate(-45)">D91</text>
<text x="209.5" y="1004.7" font-size="27" text-anchor="middle">ns</text>
<text x="369.9" y="933" font-size="26" text-anchor="middle">*</text>
<text x="532" y="781" font-size="26" text-anchor="middle">**</text>
<rect x="109.4" y="758" width="38.5" height="20.5" fill="#000" rx="3.5"/>
<rect x="109.4" y="795.2" width="38.5" height="20.5" fill="#a0a0a0" rx="3.5"/>
<text x="165" y="777" font-size="26" font-weight="bold">Mock</text>
<text x="165" y="813.6" font-size="26" font-weight="bold">JEV</text>
<text x="343.3" y="719.6" font-size="32.8" font-weight="bold" font-style="italic" text-anchor="middle">ISG56</text>
<text x="0" y="0" font-size="26.15" font-weight="bold" text-anchor="middle" transform="translate(24.1 917.9) rotate(-90)">mRNA accumulation folds</text>
<text x="0" y="0" font-size="26.3" font-weight="bold" text-anchor="middle" transform="translate(56.4 918) rotate(-90)">(Mock =1)</text>
<text x="-1.1" y="710.5" font-size="48">d</text>
<path d="M854.7,1080.2 V1076.78 Q854.7,1073.78 857.7,1073.78 H894.7 Q897.7,1073.78 897.7,1076.78 V1080.2 Z" fill="#000"/>
<line x1="876.2" y1="1074.78" x2="876.2" y2="1070.48" stroke="#000" stroke-width="4"/>
<line x1="866.53" y1="1072.18" x2="885.88" y2="1072.18" stroke="#000" stroke-width="3.6"/>
<path d="M914.5,1080.2 V1015.79 Q914.5,1012.79 917.5,1012.79 H954.5 Q957.5,1012.79 957.5,1015.79 V1080.2 Z" fill="#a0a0a0"/>
<line x1="936" y1="1013.79" x2="936" y2="1006.6" stroke="#000" stroke-width="4"/>
<line x1="926.33" y1="1008.3" x2="945.67" y2="1008.3" stroke="#000" stroke-width="3.6"/>
<path d="M1015.3,1080.2 V1076.78 Q1015.3,1073.78 1018.3,1073.78 H1055.3 Q1058.3,1073.78 1058.3,1076.78 V1080.2 Z" fill="#000"/>
<line x1="1036.8" y1="1074.78" x2="1036.8" y2="1070.48" stroke="#000" stroke-width="4"/>
<line x1="1027.12" y1="1072.18" x2="1046.47" y2="1072.18" stroke="#000" stroke-width="3.6"/>
<path d="M1075.3,1080.2 V821.26 Q1075.3,818.26 1078.3,818.26 H1115.3 Q1118.3,818.26 1118.3,821.26 V1080.2 Z" fill="#a0a0a0"/>
<line x1="1096.8" y1="819.26" x2="1096.8" y2="774.19" stroke="#000" stroke-width="4"/>
<line x1="1087.12" y1="775.89" x2="1106.47" y2="775.89" stroke="#000" stroke-width="3.6"/>
<path d="M1175.7,1080.2 V1076.78 Q1175.7,1073.78 1178.7,1073.78 H1215.7 Q1218.7,1073.78 1218.7,1076.78 V1080.2 Z" fill="#000"/>
<line x1="1197.2" y1="1074.78" x2="1197.2" y2="1070.48" stroke="#000" stroke-width="4"/>
<line x1="1187.53" y1="1072.18" x2="1206.88" y2="1072.18" stroke="#000" stroke-width="3.6"/>
<path d="M1235.7,1080.2 V1002.31 Q1235.7,999.31 1238.7,999.31 H1275.7 Q1278.7,999.31 1278.7,1002.31 V1080.2 Z" fill="#a0a0a0"/>
<line x1="1257.2" y1="1000.31" x2="1257.2" y2="996.01" stroke="#000" stroke-width="4"/>
<line x1="1247.53" y1="997.71" x2="1266.88" y2="997.71" stroke="#000" stroke-width="3.6"/>
<line x1="825.8" y1="757.5" x2="825.8" y2="1082.05" stroke="#000" stroke-width="3.7"/>
<line x1="816.8" y1="1080.2" x2="825.8" y2="1080.2" stroke="#000" stroke-width="3.4"/>
<text x="813.6" y="1087.59" font-size="24" font-weight="bold" text-anchor="end">0</text>
<line x1="816.8" y1="1016" x2="825.8" y2="1016" stroke="#000" stroke-width="3.4"/>
<text x="813.6" y="1023.39" font-size="24" font-weight="bold" text-anchor="end">10</text>
<line x1="816.8" y1="951.8" x2="825.8" y2="951.8" stroke="#000" stroke-width="3.4"/>
<text x="813.6" y="959.19" font-size="24" font-weight="bold" text-anchor="end">20</text>
<line x1="816.8" y1="887.6" x2="825.8" y2="887.6" stroke="#000" stroke-width="3.4"/>
<text x="813.6" y="894.99" font-size="24" font-weight="bold" text-anchor="end">30</text>
<line x1="816.8" y1="823.4" x2="825.8" y2="823.4" stroke="#000" stroke-width="3.4"/>
<text x="813.6" y="830.79" font-size="24" font-weight="bold" text-anchor="end">40</text>
<line x1="816.8" y1="759.2" x2="825.8" y2="759.2" stroke="#000" stroke-width="3.4"/>
<text x="813.6" y="766.59" font-size="24" font-weight="bold" text-anchor="end">50</text>
<line x1="817.3" y1="1080.2" x2="1309" y2="1080.2" stroke="#000" stroke-width="3.7"/>
<line x1="905.6" y1="1080.2" x2="905.6" y2="1090.05" stroke="#000" stroke-width="3.8"/>
<text x="0" y="8.59" font-size="24" font-weight="bold" text-anchor="end" transform="translate(906.3 1102.2) rotate(-45)">D24</text>
<line x1="1066.7" y1="1080.2" x2="1066.7" y2="1090.05" stroke="#000" stroke-width="3.8"/>
<text x="0" y="8.59" font-size="24" font-weight="bold" text-anchor="end" transform="translate(1067.4 1102.2) rotate(-45)">D55</text>
<line x1="1226.1" y1="1080.2" x2="1226.1" y2="1090.05" stroke="#000" stroke-width="3.8"/>
<text x="0" y="8.59" font-size="24" font-weight="bold" text-anchor="end" transform="translate(1226.8 1102.2) rotate(-45)">D91</text>
<text x="935.9" y="1002" font-size="26" text-anchor="middle">**</text>
<text x="1097" y="770" font-size="26" text-anchor="middle">****</text>
<text x="1257.3" y="994" font-size="26" text-anchor="middle">***</text>
<rect x="847.6" y="761.4" width="37.3" height="19.5" fill="#000" rx="3.5"/>
<rect x="847.6" y="798" width="37.3" height="19.5" fill="#a0a0a0" rx="3.5"/>
<text x="902.5" y="779.6" font-size="26" font-weight="bold">Mock</text>
<text x="902.5" y="816.2" font-size="26" font-weight="bold">JEV</text>
<text x="1069.9" y="719.9" font-size="32.5" font-weight="bold" font-style="italic" text-anchor="middle">RIG-I</text>
<text x="0" y="0" font-size="26.05" font-weight="bold" text-anchor="middle" transform="translate(739.9 917.5) rotate(-90)">mRNA accumulation folds</text>
<text x="0" y="0" font-size="26.3" font-weight="bold" text-anchor="middle" transform="translate(770.5 918.3) rotate(-90)">(Mock =1)</text>
<text x="715.9" y="710.5" font-size="48.5">e</text>
<rect x="1519.85" y="1076.02" width="43.3" height="6.18" fill="#000" rx="2"/>
<path d="M1580.25,1080.2 V1023.3 Q1580.25,1020.3 1583.25,1020.3 H1620.55 Q1623.55,1020.3 1623.55,1023.3 V1080.2 Z" fill="#a0a0a0"/>
<line x1="1601.9" y1="1021.3" x2="1601.9" y2="1003.02" stroke="#000" stroke-width="4"/>
<line x1="1592.16" y1="1004.72" x2="1611.64" y2="1004.72" stroke="#000" stroke-width="3.6"/>
<rect x="1680.55" y="1076.02" width="43.3" height="6.18" fill="#000" rx="2"/>
<path d="M1740.55,1080.2 V805.36 Q1740.55,802.36 1743.55,802.36 H1780.85 Q1783.85,802.36 1783.85,805.36 V1080.2 Z" fill="#a0a0a0"/>
<line x1="1762.2" y1="803.36" x2="1762.2" y2="788.62" stroke="#000" stroke-width="4"/>
<line x1="1752.46" y1="790.32" x2="1771.94" y2="790.32" stroke="#000" stroke-width="3.6"/>
<rect x="1840.95" y="1076.02" width="43.3" height="6.18" fill="#000" rx="2"/>
<path d="M1900.75,1080.2 V1011.57 Q1900.75,1008.57 1903.75,1008.57 H1941.05 Q1944.05,1008.57 1944.05,1011.57 V1080.2 Z" fill="#a0a0a0"/>
<line x1="1922.4" y1="1009.57" x2="1922.4" y2="993.7" stroke="#000" stroke-width="4"/>
<line x1="1912.66" y1="995.4" x2="1932.14" y2="995.4" stroke="#000" stroke-width="3.6"/>
<line x1="1491.6" y1="757.3" x2="1491.6" y2="1082.05" stroke="#000" stroke-width="3.7"/>
<line x1="1482.6" y1="1080.2" x2="1491.6" y2="1080.2" stroke="#000" stroke-width="3.4"/>
<text x="1479" y="1087.59" font-size="24" font-weight="bold" text-anchor="end">0</text>
<line x1="1482.6" y1="999.9" x2="1491.6" y2="999.9" stroke="#000" stroke-width="3.4"/>
<text x="1479" y="1007.29" font-size="24" font-weight="bold" text-anchor="end">50</text>
<line x1="1482.6" y1="919.6" x2="1491.6" y2="919.6" stroke="#000" stroke-width="3.4"/>
<text x="1479" y="926.99" font-size="24" font-weight="bold" text-anchor="end">100</text>
<line x1="1482.6" y1="839.3" x2="1491.6" y2="839.3" stroke="#000" stroke-width="3.4"/>
<text x="1479" y="846.69" font-size="24" font-weight="bold" text-anchor="end">150</text>
<line x1="1482.6" y1="759" x2="1491.6" y2="759" stroke="#000" stroke-width="3.4"/>
<text x="1479" y="766.39" font-size="24" font-weight="bold" text-anchor="end">200</text>
<line x1="1483.1" y1="1080.2" x2="1974" y2="1080.2" stroke="#000" stroke-width="3.7"/>
<line x1="1572" y1="1080.2" x2="1572" y2="1090.05" stroke="#000" stroke-width="3.8"/>
<text x="0" y="8.59" font-size="24" font-weight="bold" text-anchor="end" transform="translate(1570.4 1102.2) rotate(-45)">D24</text>
<line x1="1731.6" y1="1080.2" x2="1731.6" y2="1090.05" stroke="#000" stroke-width="3.8"/>
<text x="0" y="8.59" font-size="24" font-weight="bold" text-anchor="end" transform="translate(1730 1102.2) rotate(-45)">D55</text>
<line x1="1891.5" y1="1080.2" x2="1891.5" y2="1090.05" stroke="#000" stroke-width="3.8"/>
<text x="0" y="8.59" font-size="24" font-weight="bold" text-anchor="end" transform="translate(1889.9 1102.2) rotate(-45)">D91</text>
<text x="1601.6" y="996" font-size="26" text-anchor="middle">***</text>
<text x="1762.8" y="786" font-size="26" text-anchor="middle">****</text>
<text x="1921.1" y="988" font-size="26" text-anchor="middle">****</text>
<rect x="1513.4" y="761.3" width="37.4" height="19.7" fill="#000" rx="3.5"/>
<rect x="1513.4" y="798.7" width="37.4" height="19.7" fill="#a0a0a0" rx="3.5"/>
<text x="1568.2" y="780" font-size="26" font-weight="bold">Mock</text>
<text x="1568.2" y="815.9" font-size="26" font-weight="bold">JEV</text>
<text x="1735" y="720.1" font-size="32.7" font-weight="bold" font-style="italic" text-anchor="middle">ISG15</text>
<text x="0" y="0" font-size="25.95" font-weight="bold" text-anchor="middle" transform="translate(1391.2 918.4) rotate(-90)">mRNA accumulation folds</text>
<text x="0" y="0" font-size="26.2" font-weight="bold" text-anchor="middle" transform="translate(1421 918) rotate(-90)">(Mock =1)</text>
<text x="1369.1" y="710.8" font-size="48.4">f</text>
<path d="M127.2,1597.7 V1516.4 Q127.2,1513.4 130.2,1513.4 H170.2 Q173.2,1513.4 173.2,1516.4 V1597.7 Z" fill="#000"/>
<line x1="150.2" y1="1514.4" x2="150.2" y2="1493.15" stroke="#000" stroke-width="4"/>
<line x1="139.85" y1="1494.85" x2="160.55" y2="1494.85" stroke="#000" stroke-width="3.6"/>
<path d="M190.2,1597.7 V1548.43 Q190.2,1545.43 193.2,1545.43 H233.2 Q236.2,1545.43 236.2,1548.43 V1597.7 Z" fill="#a0a0a0"/>
<line x1="213.2" y1="1546.43" x2="213.2" y2="1534.46" stroke="#000" stroke-width="4"/>
<line x1="202.85" y1="1536.16" x2="223.55" y2="1536.16" stroke="#000" stroke-width="3.6"/>
<path d="M295.5,1597.7 V1516.4 Q295.5,1513.4 298.5,1513.4 H338.5 Q341.5,1513.4 341.5,1516.4 V1597.7 Z" fill="#000"/>
<line x1="318.5" y1="1514.4" x2="318.5" y2="1495.68" stroke="#000" stroke-width="4"/>
<line x1="308.15" y1="1497.38" x2="328.85" y2="1497.38" stroke="#000" stroke-width="3.6"/>
<path d="M359,1597.7 V1408.5 Q359,1405.5 362,1405.5 H402 Q405,1405.5 405,1408.5 V1597.7 Z" fill="#a0a0a0"/>
<line x1="382" y1="1406.5" x2="382" y2="1391.99" stroke="#000" stroke-width="4"/>
<line x1="371.65" y1="1393.69" x2="392.35" y2="1393.69" stroke="#000" stroke-width="3.6"/>
<path d="M464.2,1597.7 V1516.4 Q464.2,1513.4 467.2,1513.4 H507.2 Q510.2,1513.4 510.2,1516.4 V1597.7 Z" fill="#000"/>
<line x1="487.2" y1="1514.4" x2="487.2" y2="1498.21" stroke="#000" stroke-width="4"/>
<line x1="476.85" y1="1499.91" x2="497.55" y2="1499.91" stroke="#000" stroke-width="3.6"/>
<path d="M527.7,1597.7 V1341.9 Q527.7,1338.9 530.7,1338.9 H570.7 Q573.7,1338.9 573.7,1341.9 V1597.7 Z" fill="#a0a0a0"/>
<line x1="550.7" y1="1339.9" x2="550.7" y2="1335.6" stroke="#000" stroke-width="4"/>
<line x1="540.35" y1="1337.3" x2="561.05" y2="1337.3" stroke="#000" stroke-width="3.6"/>
<line x1="97.5" y1="1258.8" x2="97.5" y2="1599.55" stroke="#000" stroke-width="3.7"/>
<line x1="88.5" y1="1597.7" x2="97.5" y2="1597.7" stroke="#000" stroke-width="3.4"/>
<text x="85" y="1605.09" font-size="24" font-weight="bold" text-anchor="end">0</text>
<line x1="88.5" y1="1513.4" x2="97.5" y2="1513.4" stroke="#000" stroke-width="3.4"/>
<text x="85" y="1520.79" font-size="24" font-weight="bold" text-anchor="end">1</text>
<line x1="88.5" y1="1429.1" x2="97.5" y2="1429.1" stroke="#000" stroke-width="3.4"/>
<text x="85" y="1436.49" font-size="24" font-weight="bold" text-anchor="end">2</text>
<line x1="88.5" y1="1344.8" x2="97.5" y2="1344.8" stroke="#000" stroke-width="3.4"/>
<text x="85" y="1352.19" font-size="24" font-weight="bold" text-anchor="end">3</text>
<line x1="88.5" y1="1260.5" x2="97.5" y2="1260.5" stroke="#000" stroke-width="3.4"/>
<text x="85" y="1267.89" font-size="24" font-weight="bold" text-anchor="end">4</text>
<line x1="88.8" y1="1597.7" x2="604" y2="1597.7" stroke="#000" stroke-width="3.7"/>
<line x1="181.4" y1="1597.7" x2="181.4" y2="1607.55" stroke="#000" stroke-width="3.8"/>
<text x="0" y="9.13" font-size="25.5" font-weight="bold" text-anchor="end" transform="translate(179.8 1622.2) rotate(-45)">D24</text>
<line x1="349.9" y1="1597.7" x2="349.9" y2="1607.55" stroke="#000" stroke-width="3.8"/>
<text x="0" y="9.13" font-size="25.5" font-weight="bold" text-anchor="end" transform="translate(348.3 1622.2) rotate(-45)">D55</text>
<line x1="518.4" y1="1597.7" x2="518.4" y2="1607.55" stroke="#000" stroke-width="3.8"/>
<text x="0" y="9.13" font-size="25.5" font-weight="bold" text-anchor="end" transform="translate(516.8 1622.2) rotate(-45)">D91</text>
<text x="213.4" y="1518.3" font-size="27" text-anchor="middle">ns</text>
<text x="379" y="1383" font-size="26" text-anchor="middle">****</text>
<text x="549" y="1322" font-size="26" text-anchor="middle">****</text>
<rect x="120.2" y="1261" width="39.8" height="20.4" fill="#000" rx="3.5"/>
<rect x="120.2" y="1299.6" width="39.8" height="20.4" fill="#a0a0a0" rx="3.5"/>
<text x="178.2" y="1280.4" font-size="27" font-weight="bold">Mock</text>
<text x="178.2" y="1318.1" font-size="27" font-weight="bold">JEV</text>
<text x="351" y="1232.9" font-size="32.5" font-weight="bold" font-style="italic" text-anchor="middle">IRF9</text>
<text x="0" y="0" font-size="27.2" font-weight="bold" text-anchor="middle" transform="translate(22.5 1427.3) rotate(-90)">mRNA accumulation folds</text>
<text x="0" y="0" font-size="27.2" font-weight="bold" text-anchor="middle" transform="translate(53.6 1427.3) rotate(-90)">(Mock =1)</text>
<text x="-1.2" y="1221.4" font-size="49.5">g</text>
<path d="M795.4,1599.2 V1569.39 Q795.4,1566.39 798.4,1566.39 H836.4 Q839.4,1566.39 839.4,1569.39 V1599.2 Z" fill="#000"/>
<line x1="817.4" y1="1567.39" x2="817.4" y2="1563.09" stroke="#000" stroke-width="4"/>
<line x1="807.5" y1="1564.79" x2="827.3" y2="1564.79" stroke="#000" stroke-width="3.6"/>
<path d="M856.5,1599.2 V1496.55 Q856.5,1493.55 859.5,1493.55 H897.5 Q900.5,1493.55 900.5,1496.55 V1599.2 Z" fill="#a0a0a0"/>
<line x1="878.5" y1="1494.55" x2="878.5" y2="1479.38" stroke="#000" stroke-width="4"/>
<line x1="868.6" y1="1481.08" x2="888.4" y2="1481.08" stroke="#000" stroke-width="3.6"/>
<path d="M959.2,1599.2 V1569.39 Q959.2,1566.39 962.2,1566.39 H1000.2 Q1003.2,1566.39 1003.2,1569.39 V1599.2 Z" fill="#000"/>
<line x1="981.2" y1="1567.39" x2="981.2" y2="1563.09" stroke="#000" stroke-width="4"/>
<line x1="971.3" y1="1564.79" x2="991.1" y2="1564.79" stroke="#000" stroke-width="3.6"/>
<path d="M1020.5,1599.2 V1395.5 Q1020.5,1392.5 1023.5,1392.5 H1061.5 Q1064.5,1392.5 1064.5,1395.5 V1599.2 Z" fill="#a0a0a0"/>
<line x1="1042.5" y1="1393.5" x2="1042.5" y2="1368.81" stroke="#000" stroke-width="4"/>
<line x1="1032.6" y1="1370.51" x2="1052.4" y2="1370.51" stroke="#000" stroke-width="3.6"/>
<path d="M1123.3,1599.2 V1569.39 Q1123.3,1566.39 1126.3,1566.39 H1164.3 Q1167.3,1566.39 1167.3,1569.39 V1599.2 Z" fill="#000"/>
<line x1="1145.3" y1="1567.39" x2="1145.3" y2="1553.86" stroke="#000" stroke-width="4"/>
<line x1="1135.4" y1="1555.56" x2="1155.2" y2="1555.56" stroke="#000" stroke-width="3.6"/>
<path d="M1184.8,1599.2 V1352.84 Q1184.8,1349.84 1187.8,1349.84 H1225.8 Q1228.8,1349.84 1228.8,1352.84 V1599.2 Z" fill="#a0a0a0"/>
<line x1="1206.8" y1="1350.84" x2="1206.8" y2="1312.05" stroke="#000" stroke-width="4"/>
<line x1="1196.9" y1="1313.75" x2="1216.7" y2="1313.75" stroke="#000" stroke-width="3.6"/>
<line x1="766" y1="1269.4" x2="766" y2="1601.05" stroke="#000" stroke-width="3.7"/>
<line x1="757" y1="1599.2" x2="766" y2="1599.2" stroke="#000" stroke-width="3.4"/>
<text x="752.6" y="1606.59" font-size="24" font-weight="bold" text-anchor="end">0</text>
<line x1="757" y1="1533.58" x2="766" y2="1533.58" stroke="#000" stroke-width="3.4"/>
<text x="752.6" y="1540.97" font-size="24" font-weight="bold" text-anchor="end">2</text>
<line x1="757" y1="1467.96" x2="766" y2="1467.96" stroke="#000" stroke-width="3.4"/>
<text x="752.6" y="1475.35" font-size="24" font-weight="bold" text-anchor="end">4</text>
<line x1="757" y1="1402.34" x2="766" y2="1402.34" stroke="#000" stroke-width="3.4"/>
<text x="752.6" y="1409.73" font-size="24" font-weight="bold" text-anchor="end">6</text>
<line x1="757" y1="1336.72" x2="766" y2="1336.72" stroke="#000" stroke-width="3.4"/>
<text x="752.6" y="1344.11" font-size="24" font-weight="bold" text-anchor="end">8</text>
<line x1="757" y1="1271.1" x2="766" y2="1271.1" stroke="#000" stroke-width="3.4"/>
<text x="752.6" y="1278.49" font-size="24" font-weight="bold" text-anchor="end">10</text>
<line x1="756" y1="1599.2" x2="1259.3" y2="1599.2" stroke="#000" stroke-width="3.7"/>
<line x1="847.9" y1="1599.2" x2="847.9" y2="1609.05" stroke="#000" stroke-width="3.8"/>
<text x="0" y="8.59" font-size="24" font-weight="bold" text-anchor="end" transform="translate(846.3 1621.2) rotate(-45)">D24</text>
<line x1="1011.8" y1="1599.2" x2="1011.8" y2="1609.05" stroke="#000" stroke-width="3.8"/>
<text x="0" y="8.59" font-size="24" font-weight="bold" text-anchor="end" transform="translate(1010.2 1621.2) rotate(-45)">D55</text>
<line x1="1176" y1="1599.2" x2="1176" y2="1609.05" stroke="#000" stroke-width="3.8"/>
<text x="0" y="8.59" font-size="24" font-weight="bold" text-anchor="end" transform="translate(1174.4 1621.2) rotate(-45)">D91</text>
<text x="878" y="1472" font-size="26" text-anchor="middle">**</text>
<text x="1041.6" y="1360" font-size="26" text-anchor="middle">****</text>
<text x="1206.2" y="1303.5" font-size="26" text-anchor="middle">****</text>
<rect x="788.3" y="1273.6" width="37.9" height="19.7" fill="#000" rx="3.5"/>
<rect x="788.3" y="1310.9" width="37.9" height="19.7" fill="#a0a0a0" rx="3.5"/>
<text x="843.8" y="1292.1" font-size="26.5" font-weight="bold">Mock</text>
<text x="843.8" y="1329.4" font-size="26.5" font-weight="bold">JEV</text>
<text x="1013.5" y="1231.7" font-size="32.7" font-weight="bold" font-style="italic" text-anchor="middle" letter-spacing="1.2">STAT1</text>
<text x="0" y="0" font-size="26.65" font-weight="bold" text-anchor="middle" transform="translate(679.5 1434.3) rotate(-90)">mRNA accumulation folds</text>
<text x="0" y="0" font-size="26.7" font-weight="bold" text-anchor="middle" transform="translate(710 1434) rotate(-90)">(Mock =1)</text>
<text x="652.8" y="1221.9" font-size="48.5">h</text>
<rect x="43" y="47" width="269.5" height="269.7" fill="url(#gA1)"/>
<g filter="url(#fe)"><path d="M189.59,65.69C191.13,65.28 192.71,64.94 194.29,64.67C195.88,64.41 197.49,64.22 199.1,64.1C200.7,63.99 202.32,63.95 203.91,63.99C205.51,64.03 207.1,64.14 208.66,64.33C210.22,64.53 211.76,64.8 213.26,65.15C214.76,65.51 216.24,65.94 217.67,66.46C219.1,66.97 220.49,67.57 221.84,68.24C223.2,68.92 224.51,69.68 225.78,70.5C227.06,71.32 228.29,72.23 229.5,73.18C230.71,74.14 231.88,75.17 233.03,76.23C234.18,77.29 235.29,78.41 236.4,79.55C237.5,80.69 238.58,81.87 239.65,83.06C240.72,84.24 241.77,85.45 242.82,86.66C243.87,87.87 244.9,89.09 245.93,90.31C246.97,91.52 247.99,92.74 249,93.95C250.02,95.17 251.03,96.38 252.02,97.6C253.01,98.82 253.99,100.03 254.94,101.27C255.89,102.51 256.83,103.75 257.73,105.02C258.62,106.29 259.5,107.58 260.32,108.9C261.13,110.23 261.92,111.57 262.64,112.96C263.37,114.34 264.04,115.76 264.66,117.21C265.27,118.66 265.83,120.14 266.32,121.65C266.82,123.16 267.25,124.7 267.63,126.25C268.01,127.8 268.33,129.38 268.61,130.96C268.89,132.54 269.11,134.14 269.31,135.73C269.52,137.32 269.67,138.91 269.83,140.49C269.99,142.08 270.11,143.66 270.26,145.23C270.4,146.8 270.53,148.36 270.68,149.91C270.83,151.47 270.99,153.01 271.18,154.55C271.36,156.1 271.57,157.63 271.79,159.17C272.02,160.71 272.27,162.24 272.53,163.79C272.79,165.33 273.07,166.88 273.35,168.44C273.63,169.99 273.92,171.55 274.19,173.13C274.46,174.7 274.73,176.28 274.96,177.86C275.19,179.44 275.41,181.03 275.57,182.62C275.73,184.21 275.86,185.8 275.93,187.38C276,188.97 276.02,190.55 275.98,192.13C275.95,193.7 275.85,195.27 275.7,196.83C275.55,198.38 275.34,199.93 275.08,201.47C274.81,203.01 274.49,204.53 274.14,206.05C273.78,207.57 273.37,209.07 272.92,210.58C272.48,212.08 272,213.57 271.49,215.06C270.98,216.55 270.44,218.03 269.87,219.5C269.31,220.98 268.72,222.45 268.11,223.92C267.5,225.38 266.86,226.84 266.21,228.29C265.56,229.74 264.88,231.19 264.19,232.62C263.49,234.05 262.77,235.47 262.02,236.87C261.28,238.27 260.51,239.66 259.71,241.02C258.92,242.39 258.1,243.73 257.25,245.06C256.4,246.38 255.52,247.69 254.61,248.97C253.71,250.25 252.78,251.51 251.82,252.75C250.86,254 249.88,255.21 248.87,256.42C247.86,257.62 246.83,258.8 245.78,259.97C244.72,261.13 243.65,262.28 242.55,263.41C241.46,264.55 240.34,265.66 239.21,266.76C238.07,267.86 236.92,268.94 235.75,270.01C234.57,271.07 233.38,272.11 232.17,273.13C230.95,274.15 229.72,275.15 228.47,276.12C227.22,277.09 225.94,278.03 224.65,278.94C223.36,279.85 222.04,280.73 220.71,281.57C219.38,282.42 218.02,283.23 216.65,284C215.28,284.77 213.89,285.51 212.48,286.21C211.07,286.9 209.64,287.57 208.2,288.19C206.76,288.82 205.31,289.4 203.84,289.95C202.37,290.5 200.88,291.02 199.38,291.49C197.89,291.97 196.38,292.4 194.86,292.8C193.34,293.2 191.81,293.56 190.27,293.87C188.73,294.18 187.18,294.45 185.62,294.68C184.07,294.9 182.5,295.08 180.93,295.2C179.36,295.33 177.79,295.4 176.21,295.42C174.64,295.44 173.05,295.41 171.48,295.33C169.9,295.24 168.33,295.09 166.76,294.9C165.19,294.7 163.63,294.45 162.08,294.16C160.52,293.86 158.98,293.5 157.45,293.11C155.92,292.72 154.4,292.27 152.9,291.8C151.4,291.32 149.92,290.79 148.45,290.24C146.98,289.68 145.52,289.09 144.09,288.47C142.65,287.85 141.23,287.19 139.82,286.51C138.41,285.83 137.02,285.11 135.64,284.37C134.27,283.63 132.9,282.85 131.55,282.05C130.2,281.25 128.87,280.42 127.55,279.55C126.23,278.69 124.93,277.8 123.64,276.87C122.36,275.95 121.09,274.99 119.84,274.01C118.59,273.02 117.36,272.01 116.16,270.96C114.96,269.92 113.78,268.85 112.63,267.76C111.48,266.66 110.35,265.54 109.25,264.4C108.15,263.27 107.08,262.1 106.04,260.93C105,259.75 103.99,258.55 103,257.34C102.01,256.12 101.06,254.89 100.12,253.64C99.19,252.4 98.28,251.13 97.4,249.85C96.52,248.56 95.67,247.26 94.84,245.93C94.02,244.61 93.21,243.26 92.45,241.89C91.68,240.52 90.94,239.12 90.24,237.7C89.54,236.28 88.88,234.84 88.26,233.38C87.65,231.91 87.07,230.42 86.55,228.91C86.03,227.41 85.56,225.88 85.15,224.35C84.74,222.81 84.38,221.25 84.08,219.7C83.79,218.15 83.55,216.58 83.37,215.02C83.19,213.45 83.07,211.89 82.99,210.32C82.92,208.76 82.9,207.2 82.91,205.65C82.91,204.09 82.97,202.54 83.04,200.98C83.11,199.43 83.21,197.88 83.32,196.33C83.42,194.78 83.55,193.22 83.67,191.66C83.79,190.1 83.92,188.54 84.05,186.97C84.18,185.39 84.31,183.81 84.44,182.22C84.58,180.64 84.72,179.04 84.88,177.45C85.04,175.86 85.2,174.25 85.4,172.67C85.61,171.08 85.83,169.49 86.11,167.92C86.39,166.35 86.7,164.79 87.08,163.27C87.47,161.74 87.9,160.23 88.4,158.76C88.9,157.28 89.47,155.84 90.09,154.43C90.72,153.02 91.42,151.64 92.17,150.29C92.91,148.94 93.72,147.63 94.56,146.32C95.4,145.02 96.3,143.75 97.2,142.47C98.1,141.2 99.04,139.94 99.97,138.67C100.9,137.4 101.84,136.14 102.77,134.86C103.7,133.58 104.62,132.29 105.52,130.98C106.43,129.67 107.32,128.35 108.2,127.02C109.07,125.69 109.93,124.34 110.8,123.01C111.66,121.67 112.51,120.32 113.39,119C114.26,117.68 115.14,116.37 116.06,115.1C116.98,113.83 117.92,112.59 118.92,111.4C119.92,110.22 120.95,109.08 122.05,108C123.15,106.93 124.3,105.91 125.51,104.95C126.72,103.99 128,103.1 129.32,102.25C130.63,101.41 132.01,100.63 133.41,99.86C134.81,99.1 136.27,98.4 137.72,97.68C139.17,96.97 140.65,96.3 142.11,95.59C143.57,94.89 145.05,94.2 146.48,93.46C147.91,92.72 149.34,91.97 150.72,91.17C152.1,90.38 153.45,89.54 154.76,88.67C156.08,87.8 157.35,86.88 158.6,85.93C159.84,84.99 161.05,84 162.25,83C163.45,82.01 164.62,80.97 165.8,79.96C166.98,78.95 168.14,77.92 169.33,76.93C170.52,75.94 171.72,74.96 172.96,74.03C174.19,73.11 175.45,72.21 176.76,71.38C178.06,70.56 179.4,69.78 180.79,69.07C182.18,68.37 183.61,67.73 185.07,67.17C186.54,66.6 188.06,66.11 189.59,65.69Z" fill="#747474"/><g clip-path="url(#cA1)"><path d="M189.59,65.69C191.13,65.28 192.71,64.94 194.29,64.67C195.88,64.41 197.49,64.22 199.1,64.1C200.7,63.99 202.32,63.95 203.91,63.99C205.51,64.03 207.1,64.14 208.66,64.33C210.22,64.53 211.76,64.8 213.26,65.15C214.76,65.51 216.24,65.94 217.67,66.46C219.1,66.97 220.49,67.57 221.84,68.24C223.2,68.92 224.51,69.68 225.78,70.5C227.06,71.32 228.29,72.23 229.5,73.18C230.71,74.14 231.88,75.17 233.03,76.23C234.18,77.29 235.29,78.41 236.4,79.55C237.5,80.69 238.58,81.87 239.65,83.06C240.72,84.24 241.77,85.45 242.82,86.66C243.87,87.87 244.9,89.09 245.93,90.31C246.97,91.52 247.99,92.74 249,93.95C250.02,95.17 251.03,96.38 252.02,97.6C253.01,98.82 253.99,100.03 254.94,101.27C255.89,102.51 256.83,103.75 257.73,105.02C258.62,106.29 259.5,107.58 260.32,108.9C261.13,110.23 261.92,111.57 262.64,112.96C263.37,114.34 264.04,115.76 264.66,117.21C265.27,118.66 265.83,120.14 266.32,121.65C266.82,123.16 267.25,124.7 267.63,126.25C268.01,127.8 268.33,129.38 268.61,130.96C268.89,132.54 269.11,134.14 269.31,135.73C269.52,137.32 269.67,138.91 269.83,140.49C269.99,142.08 270.11,143.66 270.26,145.23C270.4,146.8 270.53,148.36 270.68,149.91C270.83,151.47 270.99,153.01 271.18,154.55C271.36,156.1 271.57,157.63 271.79,159.17C272.02,160.71 272.27,162.24 272.53,163.79C272.79,165.33 273.07,166.88 273.35,168.44C273.63,169.99 273.92,171.55 274.19,173.13C274.46,174.7 274.73,176.28 274.96,177.86C275.19,179.44 275.41,181.03 275.57,182.62C275.73,184.21 275.86,185.8 275.93,187.38C276,188.97 276.02,190.55 275.98,192.13C275.95,193.7 275.85,195.27 275.7,196.83C275.55,198.38 275.34,199.93 275.08,201.47C274.81,203.01 274.49,204.53 274.14,206.05C273.78,207.57 273.37,209.07 272.92,210.58C272.48,212.08 272,213.57 271.49,215.06C270.98,216.55 270.44,218.03 269.87,219.5C269.31,220.98 268.72,222.45 268.11,223.92C267.5,225.38 266.86,226.84 266.21,228.29C265.56,229.74 264.88,231.19 264.19,232.62C263.49,234.05 262.77,235.47 262.02,236.87C261.28,238.27 260.51,239.66 259.71,241.02C258.92,242.39 258.1,243.73 257.25,245.06C256.4,246.38 255.52,247.69 254.61,248.97C253.71,250.25 252.78,251.51 251.82,252.75C250.86,254 249.88,255.21 248.87,256.42C247.86,257.62 246.83,258.8 245.78,259.97C244.72,261.13 243.65,262.28 242.55,263.41C241.46,264.55 240.34,265.66 239.21,266.76C238.07,267.86 236.92,268.94 235.75,270.01C234.57,271.07 233.38,272.11 232.17,273.13C230.95,274.15 229.72,275.15 228.47,276.12C227.22,277.09 225.94,278.03 224.65,278.94C223.36,279.85 222.04,280.73 220.71,281.57C219.38,282.42 218.02,283.23 216.65,284C215.28,284.77 213.89,285.51 212.48,286.21C211.07,286.9 209.64,287.57 208.2,288.19C206.76,288.82 205.31,289.4 203.84,289.95C202.37,290.5 200.88,291.02 199.38,291.49C197.89,291.97 196.38,292.4 194.86,292.8C193.34,293.2 191.81,293.56 190.27,293.87C188.73,294.18 187.18,294.45 185.62,294.68C184.07,294.9 182.5,295.08 180.93,295.2C179.36,295.33 177.79,295.4 176.21,295.42C174.64,295.44 173.05,295.41 171.48,295.33C169.9,295.24 168.33,295.09 166.76,294.9C165.19,294.7 163.63,294.45 162.08,294.16C160.52,293.86 158.98,293.5 157.45,293.11C155.92,292.72 154.4,292.27 152.9,291.8C151.4,291.32 149.92,290.79 148.45,290.24C146.98,289.68 145.52,289.09 144.09,288.47C142.65,287.85 141.23,287.19 139.82,286.51C138.41,285.83 137.02,285.11 135.64,284.37C134.27,283.63 132.9,282.85 131.55,282.05C130.2,281.25 128.87,280.42 127.55,279.55C126.23,278.69 124.93,277.8 123.64,276.87C122.36,275.95 121.09,274.99 119.84,274.01C118.59,273.02 117.36,272.01 116.16,270.96C114.96,269.92 113.78,268.85 112.63,267.76C111.48,266.66 110.35,265.54 109.25,264.4C108.15,263.27 107.08,262.1 106.04,260.93C105,259.75 103.99,258.55 103,257.34C102.01,256.12 101.06,254.89 100.12,253.64C99.19,252.4 98.28,251.13 97.4,249.85C96.52,248.56 95.67,247.26 94.84,245.93C94.02,244.61 93.21,243.26 92.45,241.89C91.68,240.52 90.94,239.12 90.24,237.7C89.54,236.28 88.88,234.84 88.26,233.38C87.65,231.91 87.07,230.42 86.55,228.91C86.03,227.41 85.56,225.88 85.15,224.35C84.74,222.81 84.38,221.25 84.08,219.7C83.79,218.15 83.55,216.58 83.37,215.02C83.19,213.45 83.07,211.89 82.99,210.32C82.92,208.76 82.9,207.2 82.91,205.65C82.91,204.09 82.97,202.54 83.04,200.98C83.11,199.43 83.21,197.88 83.32,196.33C83.42,194.78 83.55,193.22 83.67,191.66C83.79,190.1 83.92,188.54 84.05,186.97C84.18,185.39 84.31,183.81 84.44,182.22C84.58,180.64 84.72,179.04 84.88,177.45C85.04,175.86 85.2,174.25 85.4,172.67C85.61,171.08 85.83,169.49 86.11,167.92C86.39,166.35 86.7,164.79 87.08,163.27C87.47,161.74 87.9,160.23 88.4,158.76C88.9,157.28 89.47,155.84 90.09,154.43C90.72,153.02 91.42,151.64 92.17,150.29C92.91,148.94 93.72,147.63 94.56,146.32C95.4,145.02 96.3,143.75 97.2,142.47C98.1,141.2 99.04,139.94 99.97,138.67C100.9,137.4 101.84,136.14 102.77,134.86C103.7,133.58 104.62,132.29 105.52,130.98C106.43,129.67 107.32,128.35 108.2,127.02C109.07,125.69 109.93,124.34 110.8,123.01C111.66,121.67 112.51,120.32 113.39,119C114.26,117.68 115.14,116.37 116.06,115.1C116.98,113.83 117.92,112.59 118.92,111.4C119.92,110.22 120.95,109.08 122.05,108C123.15,106.93 124.3,105.91 125.51,104.95C126.72,103.99 128,103.1 129.32,102.25C130.63,101.41 132.01,100.63 133.41,99.86C134.81,99.1 136.27,98.4 137.72,97.68C139.17,96.97 140.65,96.3 142.11,95.59C143.57,94.89 145.05,94.2 146.48,93.46C147.91,92.72 149.34,91.97 150.72,91.17C152.1,90.38 153.45,89.54 154.76,88.67C156.08,87.8 157.35,86.88 158.6,85.93C159.84,84.99 161.05,84 162.25,83C163.45,82.01 164.62,80.97 165.8,79.96C166.98,78.95 168.14,77.92 169.33,76.93C170.52,75.94 171.72,74.96 172.96,74.03C174.19,73.11 175.45,72.21 176.76,71.38C178.06,70.56 179.4,69.78 180.79,69.07C182.18,68.37 183.61,67.73 185.07,67.17C186.54,66.6 188.06,66.11 189.59,65.69Z" fill="url(#tlov)" filter="url(#fbA1)"/></g></g>
<rect x="227.5" y="300.9" width="74.2" height="4.1" fill="#000"/>
<rect x="327.6" y="46.8" width="269.8" height="269" fill="url(#gA2)"/>
<g filter="url(#fe)"><path d="M471.14,87.38C472.63,87.39 474.14,87.43 475.63,87.5C477.13,87.57 478.62,87.66 480.1,87.8C481.58,87.94 483.05,88.1 484.5,88.33C485.95,88.55 487.39,88.82 488.81,89.15C490.23,89.48 491.63,89.86 493.03,90.29C494.42,90.73 495.81,91.22 497.18,91.75C498.56,92.28 499.93,92.86 501.29,93.45C502.66,94.05 504.02,94.69 505.36,95.33C506.7,95.98 508.04,96.65 509.35,97.34C510.66,98.03 511.96,98.73 513.24,99.46C514.52,100.19 515.78,100.94 517.02,101.71C518.27,102.49 519.49,103.28 520.71,104.09C521.94,104.9 523.15,105.74 524.37,106.57C525.59,107.41 526.81,108.26 528.05,109.1C529.28,109.94 530.52,110.78 531.76,111.62C533,112.45 534.26,113.28 535.49,114.12C536.71,114.96 537.95,115.79 539.13,116.67C540.31,117.55 541.48,118.43 542.58,119.38C543.68,120.33 544.74,121.31 545.73,122.36C546.72,123.41 547.65,124.52 548.52,125.69C549.4,126.85 550.21,128.08 550.99,129.34C551.76,130.6 552.48,131.91 553.18,133.23C553.89,134.54 554.55,135.89 555.21,137.22C555.88,138.55 556.52,139.89 557.16,141.22C557.81,142.55 558.44,143.87 559.08,145.19C559.71,146.51 560.34,147.82 560.96,149.15C561.58,150.48 562.19,151.81 562.78,153.16C563.37,154.52 563.95,155.89 564.49,157.27C565.04,158.66 565.56,160.07 566.06,161.48C566.55,162.9 567.01,164.33 567.44,165.75C567.87,167.18 568.27,168.61 568.64,170.03C569.01,171.46 569.35,172.88 569.65,174.3C569.96,175.72 570.23,177.14 570.47,178.58C570.72,180.01 570.93,181.45 571.11,182.9C571.29,184.36 571.44,185.83 571.55,187.31C571.66,188.8 571.74,190.3 571.79,191.8C571.83,193.3 571.84,194.81 571.81,196.31C571.78,197.8 571.71,199.3 571.6,200.77C571.49,202.24 571.35,203.7 571.16,205.14C570.98,206.58 570.75,208 570.49,209.42C570.24,210.84 569.94,212.24 569.61,213.66C569.29,215.08 568.92,216.5 568.53,217.93C568.15,219.35 567.73,220.8 567.28,222.23C566.83,223.67 566.35,225.12 565.84,226.53C565.33,227.95 564.78,229.36 564.2,230.73C563.61,232.09 562.99,233.43 562.31,234.71C561.64,236 560.92,237.24 560.15,238.44C559.39,239.65 558.57,240.81 557.71,241.96C556.85,243.11 555.94,244.22 555,245.35C554.07,246.47 553.09,247.59 552.09,248.71C551.1,249.82 550.07,250.95 549.04,252.06C548.01,253.16 546.96,254.27 545.89,255.34C544.83,256.4 543.75,257.44 542.65,258.42C541.55,259.39 540.44,260.32 539.29,261.19C538.14,262.05 536.97,262.84 535.75,263.6C534.54,264.35 533.29,265.04 532.02,265.72C530.74,266.41 529.42,267.04 528.09,267.7C526.76,268.36 525.4,269.01 524.04,269.68C522.68,270.35 521.31,271.04 519.95,271.72C518.6,272.39 517.24,273.09 515.9,273.75C514.55,274.4 513.22,275.05 511.89,275.63C510.55,276.21 509.22,276.76 507.87,277.23C506.52,277.7 505.17,278.1 503.78,278.45C502.39,278.81 500.98,279.08 499.54,279.35C498.1,279.62 496.63,279.83 495.14,280.06C493.66,280.28 492.14,280.49 490.64,280.7C489.13,280.91 487.61,281.14 486.11,281.34C484.62,281.55 483.13,281.77 481.66,281.93C480.19,282.1 478.75,282.26 477.31,282.35C475.88,282.43 474.47,282.47 473.04,282.45C471.62,282.43 470.2,282.33 468.76,282.2C467.32,282.07 465.87,281.87 464.4,281.67C462.93,281.46 461.43,281.21 459.93,280.97C458.43,280.74 456.91,280.49 455.41,280.25C453.9,280 452.39,279.77 450.92,279.51C449.45,279.25 448,278.99 446.59,278.67C445.17,278.34 443.8,277.99 442.46,277.55C441.12,277.1 439.82,276.6 438.54,276C437.25,275.4 436,274.71 434.74,273.97C433.49,273.23 432.25,272.39 430.99,271.55C429.74,270.71 428.48,269.81 427.22,268.95C425.96,268.08 424.68,267.2 423.42,266.36C422.15,265.52 420.88,264.7 419.63,263.9C418.39,263.1 417.14,262.34 415.92,261.56C414.7,260.79 413.5,260.03 412.31,259.23C411.13,258.43 409.96,257.62 408.79,256.76C407.63,255.91 406.47,255.01 405.31,254.09C404.15,253.16 402.98,252.19 401.82,251.22C400.65,250.25 399.47,249.25 398.3,248.27C397.13,247.29 395.95,246.3 394.8,245.33C393.66,244.36 392.51,243.41 391.41,242.44C390.32,241.47 389.24,240.52 388.22,239.52C387.2,238.52 386.22,237.52 385.29,236.44C384.37,235.37 383.49,234.25 382.67,233.07C381.85,231.89 381.07,230.64 380.36,229.34C379.65,228.04 378.98,226.67 378.4,225.29C377.81,223.9 377.28,222.46 376.85,221.03C376.41,219.6 376.05,218.14 375.78,216.7C375.51,215.25 375.34,213.81 375.24,212.37C375.15,210.93 375.16,209.5 375.21,208.06C375.25,206.62 375.4,205.19 375.52,203.74C375.64,202.29 375.83,200.84 375.94,199.37C376.05,197.9 376.17,196.42 376.18,194.95C376.19,193.47 376.15,191.98 376.01,190.52C375.88,189.05 375.64,187.58 375.36,186.14C375.08,184.69 374.7,183.27 374.33,181.84C373.96,180.42 373.51,179.02 373.15,177.61C372.78,176.2 372.4,174.8 372.13,173.37C371.87,171.95 371.65,170.51 371.56,169.06C371.47,167.61 371.48,166.14 371.6,164.67C371.73,163.2 371.97,161.71 372.3,160.25C372.63,158.79 373.08,157.33 373.58,155.92C374.09,154.51 374.7,153.13 375.34,151.8C375.99,150.47 376.71,149.19 377.47,147.95C378.23,146.71 379.04,145.53 379.88,144.36C380.73,143.2 381.62,142.07 382.54,140.96C383.46,139.84 384.42,138.74 385.41,137.65C386.41,136.56 387.43,135.47 388.49,134.4C389.54,133.33 390.62,132.27 391.72,131.24C392.82,130.21 393.95,129.2 395.08,128.22C396.22,127.25 397.38,126.32 398.54,125.41C399.7,124.51 400.88,123.65 402.06,122.8C403.24,121.95 404.44,121.14 405.63,120.3C406.82,119.47 408.02,118.65 409.21,117.79C410.4,116.94 411.6,116.07 412.78,115.16C413.96,114.26 415.14,113.32 416.3,112.37C417.46,111.41 418.61,110.42 419.75,109.45C420.89,108.48 422.02,107.48 423.15,106.53C424.29,105.57 425.41,104.62 426.55,103.71C427.7,102.8 428.85,101.92 430.02,101.07C431.2,100.22 432.4,99.41 433.63,98.63C434.86,97.84 436.12,97.09 437.4,96.36C438.69,95.63 440,94.92 441.34,94.24C442.67,93.57 444.03,92.91 445.4,92.31C446.77,91.71 448.16,91.14 449.55,90.63C450.94,90.13 452.34,89.67 453.75,89.28C455.15,88.9 456.56,88.57 457.99,88.31C459.42,88.05 460.85,87.86 462.3,87.72C463.75,87.57 465.21,87.49 466.69,87.43C468.16,87.37 469.65,87.37 471.14,87.38Z" fill="#5c5c5c"/><g clip-path="url(#cA2)"><path d="M471.14,87.38C472.63,87.39 474.14,87.43 475.63,87.5C477.13,87.57 478.62,87.66 480.1,87.8C481.58,87.94 483.05,88.1 484.5,88.33C485.95,88.55 487.39,88.82 488.81,89.15C490.23,89.48 491.63,89.86 493.03,90.29C494.42,90.73 495.81,91.22 497.18,91.75C498.56,92.28 499.93,92.86 501.29,93.45C502.66,94.05 504.02,94.69 505.36,95.33C506.7,95.98 508.04,96.65 509.35,97.34C510.66,98.03 511.96,98.73 513.24,99.46C514.52,100.19 515.78,100.94 517.02,101.71C518.27,102.49 519.49,103.28 520.71,104.09C521.94,104.9 523.15,105.74 524.37,106.57C525.59,107.41 526.81,108.26 528.05,109.1C529.28,109.94 530.52,110.78 531.76,111.62C533,112.45 534.26,113.28 535.49,114.12C536.71,114.96 537.95,115.79 539.13,116.67C540.31,117.55 541.48,118.43 542.58,119.38C543.68,120.33 544.74,121.31 545.73,122.36C546.72,123.41 547.65,124.52 548.52,125.69C549.4,126.85 550.21,128.08 550.99,129.34C551.76,130.6 552.48,131.91 553.18,133.23C553.89,134.54 554.55,135.89 555.21,137.22C555.88,138.55 556.52,139.89 557.16,141.22C557.81,142.55 558.44,143.87 559.08,145.19C559.71,146.51 560.34,147.82 560.96,149.15C561.58,150.48 562.19,151.81 562.78,153.16C563.37,154.52 563.95,155.89 564.49,157.27C565.04,158.66 565.56,160.07 566.06,161.48C566.55,162.9 567.01,164.33 567.44,165.75C567.87,167.18 568.27,168.61 568.64,170.03C569.01,171.46 569.35,172.88 569.65,174.3C569.96,175.72 570.23,177.14 570.47,178.58C570.72,180.01 570.93,181.45 571.11,182.9C571.29,184.36 571.44,185.83 571.55,187.31C571.66,188.8 571.74,190.3 571.79,191.8C571.83,193.3 571.84,194.81 571.81,196.31C571.78,197.8 571.71,199.3 571.6,200.77C571.49,202.24 571.35,203.7 571.16,205.14C570.98,206.58 570.75,208 570.49,209.42C570.24,210.84 569.94,212.24 569.61,213.66C569.29,215.08 568.92,216.5 568.53,217.93C568.15,219.35 567.73,220.8 567.28,222.23C566.83,223.67 566.35,225.12 565.84,226.53C565.33,227.95 564.78,229.36 564.2,230.73C563.61,232.09 562.99,233.43 562.31,234.71C561.64,236 560.92,237.24 560.15,238.44C559.39,239.65 558.57,240.81 557.71,241.96C556.85,243.11 555.94,244.22 555,245.35C554.07,246.47 553.09,247.59 552.09,248.71C551.1,249.82 550.07,250.95 549.04,252.06C548.01,253.16 546.96,254.27 545.89,255.34C544.83,256.4 543.75,257.44 542.65,258.42C541.55,259.39 540.44,260.32 539.29,261.19C538.14,262.05 536.97,262.84 535.75,263.6C534.54,264.35 533.29,265.04 532.02,265.72C530.74,266.41 529.42,267.04 528.09,267.7C526.76,268.36 525.4,269.01 524.04,269.68C522.68,270.35 521.31,271.04 519.95,271.72C518.6,272.39 517.24,273.09 515.9,273.75C514.55,274.4 513.22,275.05 511.89,275.63C510.55,276.21 509.22,276.76 507.87,277.23C506.52,277.7 505.17,278.1 503.78,278.45C502.39,278.81 500.98,279.08 499.54,279.35C498.1,279.62 496.63,279.83 495.14,280.06C493.66,280.28 492.14,280.49 490.64,280.7C489.13,280.91 487.61,281.14 486.11,281.34C484.62,281.55 483.13,281.77 481.66,281.93C480.19,282.1 478.75,282.26 477.31,282.35C475.88,282.43 474.47,282.47 473.04,282.45C471.62,282.43 470.2,282.33 468.76,282.2C467.32,282.07 465.87,281.87 464.4,281.67C462.93,281.46 461.43,281.21 459.93,280.97C458.43,280.74 456.91,280.49 455.41,280.25C453.9,280 452.39,279.77 450.92,279.51C449.45,279.25 448,278.99 446.59,278.67C445.17,278.34 443.8,277.99 442.46,277.55C441.12,277.1 439.82,276.6 438.54,276C437.25,275.4 436,274.71 434.74,273.97C433.49,273.23 432.25,272.39 430.99,271.55C429.74,270.71 428.48,269.81 427.22,268.95C425.96,268.08 424.68,267.2 423.42,266.36C422.15,265.52 420.88,264.7 419.63,263.9C418.39,263.1 417.14,262.34 415.92,261.56C414.7,260.79 413.5,260.03 412.31,259.23C411.13,258.43 409.96,257.62 408.79,256.76C407.63,255.91 406.47,255.01 405.31,254.09C404.15,253.16 402.98,252.19 401.82,251.22C400.65,250.25 399.47,249.25 398.3,248.27C397.13,247.29 395.95,246.3 394.8,245.33C393.66,244.36 392.51,243.41 391.41,242.44C390.32,241.47 389.24,240.52 388.22,239.52C387.2,238.52 386.22,237.52 385.29,236.44C384.37,235.37 383.49,234.25 382.67,233.07C381.85,231.89 381.07,230.64 380.36,229.34C379.65,228.04 378.98,226.67 378.4,225.29C377.81,223.9 377.28,222.46 376.85,221.03C376.41,219.6 376.05,218.14 375.78,216.7C375.51,215.25 375.34,213.81 375.24,212.37C375.15,210.93 375.16,209.5 375.21,208.06C375.25,206.62 375.4,205.19 375.52,203.74C375.64,202.29 375.83,200.84 375.94,199.37C376.05,197.9 376.17,196.42 376.18,194.95C376.19,193.47 376.15,191.98 376.01,190.52C375.88,189.05 375.64,187.58 375.36,186.14C375.08,184.69 374.7,183.27 374.33,181.84C373.96,180.42 373.51,179.02 373.15,177.61C372.78,176.2 372.4,174.8 372.13,173.37C371.87,171.95 371.65,170.51 371.56,169.06C371.47,167.61 371.48,166.14 371.6,164.67C371.73,163.2 371.97,161.71 372.3,160.25C372.63,158.79 373.08,157.33 373.58,155.92C374.09,154.51 374.7,153.13 375.34,151.8C375.99,150.47 376.71,149.19 377.47,147.95C378.23,146.71 379.04,145.53 379.88,144.36C380.73,143.2 381.62,142.07 382.54,140.96C383.46,139.84 384.42,138.74 385.41,137.65C386.41,136.56 387.43,135.47 388.49,134.4C389.54,133.33 390.62,132.27 391.72,131.24C392.82,130.21 393.95,129.2 395.08,128.22C396.22,127.25 397.38,126.32 398.54,125.41C399.7,124.51 400.88,123.65 402.06,122.8C403.24,121.95 404.44,121.14 405.63,120.3C406.82,119.47 408.02,118.65 409.21,117.79C410.4,116.94 411.6,116.07 412.78,115.16C413.96,114.26 415.14,113.32 416.3,112.37C417.46,111.41 418.61,110.42 419.75,109.45C420.89,108.48 422.02,107.48 423.15,106.53C424.29,105.57 425.41,104.62 426.55,103.71C427.7,102.8 428.85,101.92 430.02,101.07C431.2,100.22 432.4,99.41 433.63,98.63C434.86,97.84 436.12,97.09 437.4,96.36C438.69,95.63 440,94.92 441.34,94.24C442.67,93.57 444.03,92.91 445.4,92.31C446.77,91.71 448.16,91.14 449.55,90.63C450.94,90.13 452.34,89.67 453.75,89.28C455.15,88.9 456.56,88.57 457.99,88.31C459.42,88.05 460.85,87.86 462.3,87.72C463.75,87.57 465.21,87.49 466.69,87.43C468.16,87.37 469.65,87.37 471.14,87.38Z" fill="#2c2c2c" filter="url(#fbA2)"/></g></g>
<rect x="553" y="299.6" width="33.8" height="4.1" fill="#000"/>
<rect x="42.5" y="328.7" width="270.3" height="270" fill="url(#gA3)"/>
<g filter="url(#fe)"><path d="M176.47,370.7C177.56,370.67 178.66,370.65 179.75,370.67C180.84,370.68 181.94,370.72 183.03,370.81C184.12,370.89 185.21,371.01 186.29,371.17C187.37,371.34 188.45,371.55 189.5,371.82C190.56,372.08 191.6,372.4 192.62,372.76C193.64,373.13 194.65,373.55 195.62,374.02C196.6,374.48 197.56,375 198.5,375.55C199.43,376.1 200.34,376.71 201.24,377.33C202.13,377.95 203.01,378.61 203.87,379.28C204.73,379.95 205.58,380.64 206.42,381.35C207.26,382.05 208.08,382.77 208.91,383.49C209.73,384.21 210.54,384.95 211.35,385.68C212.16,386.42 212.97,387.16 213.77,387.91C214.56,388.66 215.35,389.41 216.14,390.18C216.92,390.94 217.69,391.71 218.45,392.49C219.21,393.28 219.97,394.07 220.71,394.87C221.44,395.68 222.17,396.49 222.89,397.32C223.6,398.14 224.31,398.98 225,399.82C225.69,400.67 226.37,401.53 227.04,402.39C227.72,403.25 228.38,404.12 229.03,405C229.69,405.88 230.33,406.76 230.96,407.65C231.6,408.55 232.22,409.44 232.83,410.35C233.44,411.26 234.04,412.17 234.63,413.1C235.21,414.02 235.78,414.95 236.32,415.89C236.87,416.84 237.4,417.79 237.91,418.76C238.41,419.72 238.9,420.7 239.36,421.69C239.83,422.67 240.27,423.67 240.69,424.68C241.12,425.68 241.52,426.7 241.91,427.72C242.3,428.75 242.67,429.78 243.03,430.81C243.39,431.84 243.74,432.88 244.08,433.93C244.41,434.97 244.74,436.01 245.05,437.06C245.37,438.11 245.68,439.16 245.97,440.21C246.26,441.26 246.54,442.32 246.79,443.38C247.05,444.44 247.29,445.5 247.51,446.56C247.72,447.63 247.92,448.7 248.08,449.78C248.24,450.85 248.38,451.93 248.48,453.01C248.59,454.1 248.66,455.19 248.71,456.28C248.76,457.37 248.77,458.46 248.76,459.55C248.76,460.65 248.72,461.74 248.66,462.84C248.61,463.93 248.53,465.03 248.43,466.12C248.34,467.21 248.23,468.3 248.1,469.39C247.97,470.47 247.83,471.56 247.68,472.64C247.52,473.72 247.36,474.79 247.17,475.87C246.99,476.94 246.79,478.01 246.56,479.08C246.34,480.14 246.1,481.2 245.83,482.26C245.56,483.31 245.27,484.36 244.95,485.4C244.63,486.44 244.28,487.48 243.9,488.5C243.51,489.52 243.1,490.53 242.65,491.53C242.21,492.52 241.73,493.51 241.22,494.47C240.71,495.44 240.17,496.39 239.6,497.32C239.03,498.25 238.43,499.16 237.81,500.05C237.18,500.93 236.53,501.8 235.85,502.65C235.18,503.5 234.47,504.32 233.75,505.13C233.02,505.93 232.27,506.71 231.49,507.47C230.72,508.23 229.92,508.97 229.1,509.68C228.29,510.4 227.44,511.1 226.59,511.77C225.73,512.45 224.85,513.1 223.96,513.74C223.07,514.38 222.16,515 221.24,515.6C220.33,516.21 219.4,516.8 218.46,517.38C217.53,517.96 216.59,518.52 215.65,519.08C214.72,519.64 213.77,520.19 212.83,520.74C211.89,521.29 210.95,521.84 210,522.38C209.06,522.92 208.12,523.46 207.17,524C206.22,524.53 205.28,525.07 204.32,525.6C203.36,526.12 202.4,526.64 201.42,527.14C200.44,527.64 199.46,528.13 198.46,528.59C197.46,529.04 196.44,529.48 195.42,529.87C194.39,530.26 193.35,530.62 192.3,530.93C191.25,531.23 190.19,531.49 189.12,531.68C188.05,531.88 186.97,532.02 185.89,532.1C184.82,532.18 183.73,532.19 182.65,532.15C181.58,532.11 180.5,532 179.43,531.84C178.36,531.69 177.3,531.47 176.25,531.21C175.19,530.95 174.15,530.64 173.11,530.3C172.08,529.96 171.05,529.57 170.04,529.16C169.02,528.76 168.02,528.31 167.02,527.86C166.02,527.4 165.03,526.92 164.05,526.43C163.07,525.94 162.1,525.43 161.14,524.92C160.17,524.4 159.21,523.88 158.26,523.34C157.3,522.81 156.36,522.27 155.41,521.72C154.47,521.17 153.53,520.62 152.59,520.06C151.65,519.5 150.72,518.94 149.78,518.38C148.85,517.81 147.92,517.24 146.98,516.67C146.05,516.1 145.12,515.53 144.19,514.95C143.25,514.37 142.32,513.8 141.39,513.21C140.46,512.62 139.53,512.03 138.61,511.43C137.7,510.82 136.78,510.21 135.89,509.58C134.99,508.94 134.1,508.3 133.24,507.62C132.39,506.95 131.54,506.26 130.74,505.53C129.93,504.8 129.15,504.05 128.42,503.26C127.68,502.47 126.98,501.65 126.32,500.8C125.67,499.95 125.06,499.06 124.49,498.14C123.93,497.22 123.41,496.27 122.94,495.3C122.46,494.32 122.03,493.31 121.65,492.3C121.26,491.28 120.92,490.23 120.61,489.18C120.3,488.13 120.03,487.06 119.78,485.99C119.54,484.91 119.33,483.83 119.15,482.75C118.96,481.67 118.8,480.58 118.66,479.5C118.52,478.41 118.4,477.33 118.29,476.24C118.19,475.16 118.1,474.07 118.03,472.99C117.96,471.9 117.91,470.82 117.87,469.73C117.82,468.64 117.8,467.55 117.79,466.46C117.77,465.37 117.78,464.28 117.79,463.19C117.81,462.1 117.84,461 117.89,459.91C117.94,458.81 118.01,457.72 118.09,456.62C118.17,455.53 118.27,454.44 118.38,453.35C118.49,452.26 118.62,451.17 118.77,450.08C118.91,449 119.08,447.91 119.25,446.83C119.43,445.75 119.62,444.68 119.83,443.6C120.04,442.53 120.26,441.46 120.49,440.4C120.72,439.33 120.97,438.27 121.22,437.21C121.48,436.14 121.75,435.09 122.03,434.03C122.31,432.97 122.6,431.92 122.9,430.87C123.2,429.82 123.51,428.77 123.84,427.73C124.16,426.69 124.5,425.65 124.85,424.61C125.21,423.58 125.58,422.55 125.96,421.52C126.35,420.5 126.75,419.48 127.17,418.47C127.58,417.46 128.02,416.45 128.47,415.45C128.92,414.45 129.39,413.46 129.86,412.47C130.34,411.48 130.83,410.5 131.32,409.52C131.81,408.54 132.31,407.57 132.81,406.59C133.3,405.61 133.8,404.64 134.28,403.66C134.77,402.68 135.25,401.7 135.72,400.72C136.19,399.73 136.64,398.74 137.1,397.75C137.55,396.76 137.99,395.76 138.43,394.77C138.88,393.77 139.31,392.77 139.76,391.78C140.22,390.78 140.67,389.79 141.16,388.81C141.65,387.84 142.15,386.87 142.7,385.93C143.25,384.99 143.82,384.07 144.45,383.19C145.08,382.31 145.74,381.46 146.46,380.66C147.19,379.86 147.96,379.1 148.77,378.41C149.59,377.71 150.46,377.06 151.36,376.47C152.26,375.89 153.22,375.36 154.19,374.89C155.16,374.41 156.18,374 157.2,373.64C158.22,373.27 159.28,372.96 160.33,372.69C161.38,372.42 162.45,372.19 163.52,371.99C164.59,371.79 165.67,371.63 166.74,371.49C167.82,371.34 168.89,371.22 169.97,371.12C171.05,371.01 172.13,370.93 173.21,370.86C174.3,370.79 175.38,370.73 176.47,370.7Z" fill="#555555"/><g clip-path="url(#cA3)"><path d="M176.47,370.7C177.56,370.67 178.66,370.65 179.75,370.67C180.84,370.68 181.94,370.72 183.03,370.81C184.12,370.89 185.21,371.01 186.29,371.17C187.37,371.34 188.45,371.55 189.5,371.82C190.56,372.08 191.6,372.4 192.62,372.76C193.64,373.13 194.65,373.55 195.62,374.02C196.6,374.48 197.56,375 198.5,375.55C199.43,376.1 200.34,376.71 201.24,377.33C202.13,377.95 203.01,378.61 203.87,379.28C204.73,379.95 205.58,380.64 206.42,381.35C207.26,382.05 208.08,382.77 208.91,383.49C209.73,384.21 210.54,384.95 211.35,385.68C212.16,386.42 212.97,387.16 213.77,387.91C214.56,388.66 215.35,389.41 216.14,390.18C216.92,390.94 217.69,391.71 218.45,392.49C219.21,393.28 219.97,394.07 220.71,394.87C221.44,395.68 222.17,396.49 222.89,397.32C223.6,398.14 224.31,398.98 225,399.82C225.69,400.67 226.37,401.53 227.04,402.39C227.72,403.25 228.38,404.12 229.03,405C229.69,405.88 230.33,406.76 230.96,407.65C231.6,408.55 232.22,409.44 232.83,410.35C233.44,411.26 234.04,412.17 234.63,413.1C235.21,414.02 235.78,414.95 236.32,415.89C236.87,416.84 237.4,417.79 237.91,418.76C238.41,419.72 238.9,420.7 239.36,421.69C239.83,422.67 240.27,423.67 240.69,424.68C241.12,425.68 241.52,426.7 241.91,427.72C242.3,428.75 242.67,429.78 243.03,430.81C243.39,431.84 243.74,432.88 244.08,433.93C244.41,434.97 244.74,436.01 245.05,437.06C245.37,438.11 245.68,439.16 245.97,440.21C246.26,441.26 246.54,442.32 246.79,443.38C247.05,444.44 247.29,445.5 247.51,446.56C247.72,447.63 247.92,448.7 248.08,449.78C248.24,450.85 248.38,451.93 248.48,453.01C248.59,454.1 248.66,455.19 248.71,456.28C248.76,457.37 248.77,458.46 248.76,459.55C248.76,460.65 248.72,461.74 248.66,462.84C248.61,463.93 248.53,465.03 248.43,466.12C248.34,467.21 248.23,468.3 248.1,469.39C247.97,470.47 247.83,471.56 247.68,472.64C247.52,473.72 247.36,474.79 247.17,475.87C246.99,476.94 246.79,478.01 246.56,479.08C246.34,480.14 246.1,481.2 245.83,482.26C245.56,483.31 245.27,484.36 244.95,485.4C244.63,486.44 244.28,487.48 243.9,488.5C243.51,489.52 243.1,490.53 242.65,491.53C242.21,492.52 241.73,493.51 241.22,494.47C240.71,495.44 240.17,496.39 239.6,497.32C239.03,498.25 238.43,499.16 237.81,500.05C237.18,500.93 236.53,501.8 235.85,502.65C235.18,503.5 234.47,504.32 233.75,505.13C233.02,505.93 232.27,506.71 231.49,507.47C230.72,508.23 229.92,508.97 229.1,509.68C228.29,510.4 227.44,511.1 226.59,511.77C225.73,512.45 224.85,513.1 223.96,513.74C223.07,514.38 222.16,515 221.24,515.6C220.33,516.21 219.4,516.8 218.46,517.38C217.53,517.96 216.59,518.52 215.65,519.08C214.72,519.64 213.77,520.19 212.83,520.74C211.89,521.29 210.95,521.84 210,522.38C209.06,522.92 208.12,523.46 207.17,524C206.22,524.53 205.28,525.07 204.32,525.6C203.36,526.12 202.4,526.64 201.42,527.14C200.44,527.64 199.46,528.13 198.46,528.59C197.46,529.04 196.44,529.48 195.42,529.87C194.39,530.26 193.35,530.62 192.3,530.93C191.25,531.23 190.19,531.49 189.12,531.68C188.05,531.88 186.97,532.02 185.89,532.1C184.82,532.18 183.73,532.19 182.65,532.15C181.58,532.11 180.5,532 179.43,531.84C178.36,531.69 177.3,531.47 176.25,531.21C175.19,530.95 174.15,530.64 173.11,530.3C172.08,529.96 171.05,529.57 170.04,529.16C169.02,528.76 168.02,528.31 167.02,527.86C166.02,527.4 165.03,526.92 164.05,526.43C163.07,525.94 162.1,525.43 161.14,524.92C160.17,524.4 159.21,523.88 158.26,523.34C157.3,522.81 156.36,522.27 155.41,521.72C154.47,521.17 153.53,520.62 152.59,520.06C151.65,519.5 150.72,518.94 149.78,518.38C148.85,517.81 147.92,517.24 146.98,516.67C146.05,516.1 145.12,515.53 144.19,514.95C143.25,514.37 142.32,513.8 141.39,513.21C140.46,512.62 139.53,512.03 138.61,511.43C137.7,510.82 136.78,510.21 135.89,509.58C134.99,508.94 134.1,508.3 133.24,507.62C132.39,506.95 131.54,506.26 130.74,505.53C129.93,504.8 129.15,504.05 128.42,503.26C127.68,502.47 126.98,501.65 126.32,500.8C125.67,499.95 125.06,499.06 124.49,498.14C123.93,497.22 123.41,496.27 122.94,495.3C122.46,494.32 122.03,493.31 121.65,492.3C121.26,491.28 120.92,490.23 120.61,489.18C120.3,488.13 120.03,487.06 119.78,485.99C119.54,484.91 119.33,483.83 119.15,482.75C118.96,481.67 118.8,480.58 118.66,479.5C118.52,478.41 118.4,477.33 118.29,476.24C118.19,475.16 118.1,474.07 118.03,472.99C117.96,471.9 117.91,470.82 117.87,469.73C117.82,468.64 117.8,467.55 117.79,466.46C117.77,465.37 117.78,464.28 117.79,463.19C117.81,462.1 117.84,461 117.89,459.91C117.94,458.81 118.01,457.72 118.09,456.62C118.17,455.53 118.27,454.44 118.38,453.35C118.49,452.26 118.62,451.17 118.77,450.08C118.91,449 119.08,447.91 119.25,446.83C119.43,445.75 119.62,444.68 119.83,443.6C120.04,442.53 120.26,441.46 120.49,440.4C120.72,439.33 120.97,438.27 121.22,437.21C121.48,436.14 121.75,435.09 122.03,434.03C122.31,432.97 122.6,431.92 122.9,430.87C123.2,429.82 123.51,428.77 123.84,427.73C124.16,426.69 124.5,425.65 124.85,424.61C125.21,423.58 125.58,422.55 125.96,421.52C126.35,420.5 126.75,419.48 127.17,418.47C127.58,417.46 128.02,416.45 128.47,415.45C128.92,414.45 129.39,413.46 129.86,412.47C130.34,411.48 130.83,410.5 131.32,409.52C131.81,408.54 132.31,407.57 132.81,406.59C133.3,405.61 133.8,404.64 134.28,403.66C134.77,402.68 135.25,401.7 135.72,400.72C136.19,399.73 136.64,398.74 137.1,397.75C137.55,396.76 137.99,395.76 138.43,394.77C138.88,393.77 139.31,392.77 139.76,391.78C140.22,390.78 140.67,389.79 141.16,388.81C141.65,387.84 142.15,386.87 142.7,385.93C143.25,384.99 143.82,384.07 144.45,383.19C145.08,382.31 145.74,381.46 146.46,380.66C147.19,379.86 147.96,379.1 148.77,378.41C149.59,377.71 150.46,377.06 151.36,376.47C152.26,375.89 153.22,375.36 154.19,374.89C155.16,374.41 156.18,374 157.2,373.64C158.22,373.27 159.28,372.96 160.33,372.69C161.38,372.42 162.45,372.19 163.52,371.99C164.59,371.79 165.67,371.63 166.74,371.49C167.82,371.34 168.89,371.22 169.97,371.12C171.05,371.01 172.13,370.93 173.21,370.86C174.3,370.79 175.38,370.73 176.47,370.7Z" fill="#292929" filter="url(#fbA3)"/></g></g>
<rect x="226.3" y="582" width="73.4" height="4.5" fill="#000"/>
<rect x="328" y="329.6" width="269.1" height="270.2" fill="url(#gA4)"/>
<g filter="url(#fe)"><path d="M469.71,381.98C471.11,381.9 472.5,381.88 473.89,381.9C475.27,381.92 476.65,382 478.03,382.11C479.42,382.21 480.79,382.37 482.18,382.54C483.57,382.71 484.96,382.92 486.36,383.14C487.76,383.37 489.16,383.61 490.57,383.87C491.97,384.13 493.38,384.4 494.78,384.7C496.18,384.99 497.58,385.29 498.96,385.62C500.34,385.95 501.71,386.3 503.06,386.68C504.41,387.06 505.74,387.46 507.06,387.9C508.37,388.34 509.67,388.81 510.97,389.33C512.26,389.84 513.54,390.39 514.81,390.97C516.09,391.55 517.35,392.17 518.61,392.82C519.87,393.47 521.13,394.15 522.37,394.85C523.61,395.56 524.85,396.29 526.06,397.03C527.28,397.78 528.48,398.55 529.65,399.33C530.82,400.11 531.98,400.91 533.11,401.74C534.23,402.56 535.34,403.4 536.42,404.27C537.5,405.14 538.56,406.04 539.6,406.97C540.64,407.89 541.66,408.85 542.66,409.84C543.66,410.83 544.64,411.85 545.6,412.9C546.56,413.95 547.5,415.04 548.4,416.14C549.31,417.24 550.19,418.37 551.04,419.51C551.88,420.65 552.7,421.81 553.49,422.97C554.28,424.13 555.03,425.31 555.77,426.49C556.51,427.68 557.22,428.87 557.92,430.07C558.63,431.27 559.31,432.47 560,433.69C560.69,434.91 561.38,436.14 562.06,437.39C562.73,438.63 563.42,439.89 564.07,441.16C564.73,442.43 565.38,443.71 565.99,445C566.6,446.3 567.19,447.6 567.72,448.91C568.25,450.22 568.74,451.53 569.17,452.86C569.59,454.19 569.96,455.52 570.26,456.86C570.57,458.21 570.82,459.56 571.02,460.93C571.22,462.3 571.36,463.68 571.47,465.07C571.59,466.47 571.66,467.88 571.7,469.3C571.75,470.72 571.76,472.15 571.75,473.58C571.74,475.01 571.7,476.46 571.64,477.88C571.57,479.31 571.48,480.73 571.35,482.14C571.22,483.54 571.05,484.94 570.85,486.32C570.65,487.7 570.41,489.06 570.14,490.42C569.87,491.78 569.55,493.12 569.22,494.47C568.88,495.82 568.51,497.17 568.11,498.52C567.72,499.87 567.3,501.23 566.85,502.58C566.4,503.93 565.93,505.3 565.41,506.63C564.9,507.96 564.36,509.29 563.76,510.58C563.16,511.86 562.52,513.12 561.83,514.33C561.13,515.54 560.37,516.71 559.56,517.83C558.75,518.95 557.88,520.01 556.96,521.05C556.05,522.09 555.08,523.07 554.08,524.06C553.09,525.04 552.05,525.99 551.01,526.94C549.97,527.9 548.91,528.85 547.84,529.79C546.77,530.74 545.7,531.7 544.62,532.63C543.53,533.56 542.45,534.5 541.34,535.38C540.23,536.27 539.11,537.14 537.95,537.93C536.8,538.73 535.62,539.48 534.41,540.17C533.2,540.85 531.96,541.46 530.69,542.03C529.42,542.59 528.12,543.08 526.81,543.58C525.51,544.07 524.17,544.5 522.86,544.97C521.54,545.45 520.22,545.9 518.92,546.41C517.63,546.93 516.34,547.47 515.08,548.06C513.82,548.64 512.58,549.29 511.34,549.94C510.11,550.6 508.9,551.31 507.67,552C506.44,552.69 505.23,553.41 503.99,554.07C502.74,554.73 501.49,555.38 500.21,555.96C498.93,556.54 497.63,557.07 496.31,557.55C494.98,558.02 493.63,558.43 492.27,558.8C490.9,559.17 489.51,559.48 488.13,559.77C486.74,560.06 485.34,560.31 483.94,560.54C482.55,560.78 481.15,560.99 479.75,561.19C478.35,561.38 476.96,561.56 475.57,561.71C474.18,561.86 472.79,561.99 471.39,562.07C470,562.16 468.61,562.21 467.21,562.22C465.81,562.22 464.41,562.18 463.01,562.09C461.6,562 460.2,561.86 458.79,561.69C457.39,561.52 455.98,561.3 454.58,561.05C453.18,560.81 451.79,560.53 450.4,560.22C449.02,559.92 447.64,559.6 446.28,559.24C444.92,558.89 443.57,558.51 442.23,558.1C440.89,557.69 439.57,557.26 438.26,556.78C436.95,556.31 435.65,555.8 434.36,555.26C433.06,554.71 431.78,554.13 430.51,553.52C429.23,552.92 427.97,552.28 426.7,551.63C425.44,550.98 424.18,550.31 422.92,549.63C421.67,548.96 420.42,548.28 419.17,547.6C417.93,546.92 416.69,546.24 415.46,545.54C414.24,544.85 413.02,544.16 411.82,543.44C410.61,542.72 409.43,541.99 408.25,541.22C407.08,540.45 405.93,539.66 404.79,538.84C403.65,538.02 402.53,537.16 401.42,536.29C400.31,535.42 399.21,534.52 398.11,533.62C397.01,532.72 395.92,531.8 394.82,530.9C393.72,530 392.62,529.1 391.5,528.22C390.39,527.34 389.27,526.48 388.15,525.62C387.03,524.77 385.89,523.94 384.78,523.09C383.66,522.24 382.54,521.4 381.46,520.52C380.38,519.64 379.3,518.75 378.28,517.8C377.26,516.85 376.27,515.86 375.34,514.81C374.42,513.77 373.54,512.66 372.74,511.51C371.94,510.36 371.2,509.14 370.54,507.89C369.88,506.64 369.3,505.34 368.8,504.02C368.31,502.7 367.89,501.34 367.58,499.98C367.26,498.62 367.03,497.23 366.91,495.86C366.79,494.48 366.76,493.1 366.84,491.73C366.92,490.36 367.11,488.99 367.38,487.64C367.66,486.29 368.05,484.95 368.5,483.63C368.96,482.31 369.51,481 370.11,479.72C370.71,478.44 371.39,477.17 372.09,475.93C372.78,474.69 373.54,473.47 374.29,472.26C375.04,471.05 375.82,469.87 376.6,468.69C377.37,467.51 378.16,466.35 378.94,465.19C379.72,464.03 380.5,462.88 381.29,461.72C382.07,460.56 382.86,459.41 383.65,458.25C384.45,457.1 385.25,455.93 386.07,454.78C386.88,453.62 387.71,452.46 388.54,451.3C389.38,450.15 390.23,448.99 391.08,447.85C391.93,446.71 392.79,445.58 393.65,444.45C394.51,443.33 395.38,442.22 396.24,441.11C397.11,440 397.97,438.91 398.84,437.82C399.71,436.72 400.58,435.63 401.46,434.54C402.34,433.45 403.23,432.37 404.12,431.28C405.02,430.19 405.92,429.1 406.84,428.01C407.75,426.92 408.67,425.83 409.6,424.74C410.52,423.66 411.46,422.57 412.39,421.5C413.32,420.43 414.26,419.36 415.19,418.3C416.12,417.24 417.06,416.2 417.99,415.16C418.93,414.11 419.86,413.08 420.81,412.05C421.75,411.03 422.7,410 423.66,408.98C424.62,407.96 425.59,406.95 426.58,405.93C427.56,404.92 428.57,403.91 429.58,402.9C430.59,401.9 431.62,400.9 432.66,399.92C433.7,398.94 434.75,397.97 435.81,397.03C436.88,396.09 437.95,395.17 439.04,394.29C440.13,393.4 441.22,392.54 442.35,391.73C443.47,390.92 444.61,390.15 445.79,389.42C446.96,388.7 448.16,388.01 449.4,387.38C450.63,386.75 451.9,386.17 453.2,385.64C454.5,385.11 455.84,384.63 457.19,384.21C458.54,383.79 459.93,383.43 461.32,383.12C462.71,382.82 464.11,382.57 465.51,382.38C466.91,382.19 468.32,382.06 469.71,381.98Z" fill="#5e5e5e"/><g clip-path="url(#cA4)"><path d="M469.71,381.98C471.11,381.9 472.5,381.88 473.89,381.9C475.27,381.92 476.65,382 478.03,382.11C479.42,382.21 480.79,382.37 482.18,382.54C483.57,382.71 484.96,382.92 486.36,383.14C487.76,383.37 489.16,383.61 490.57,383.87C491.97,384.13 493.38,384.4 494.78,384.7C496.18,384.99 497.58,385.29 498.96,385.62C500.34,385.95 501.71,386.3 503.06,386.68C504.41,387.06 505.74,387.46 507.06,387.9C508.37,388.34 509.67,388.81 510.97,389.33C512.26,389.84 513.54,390.39 514.81,390.97C516.09,391.55 517.35,392.17 518.61,392.82C519.87,393.47 521.13,394.15 522.37,394.85C523.61,395.56 524.85,396.29 526.06,397.03C527.28,397.78 528.48,398.55 529.65,399.33C530.82,400.11 531.98,400.91 533.11,401.74C534.23,402.56 535.34,403.4 536.42,404.27C537.5,405.14 538.56,406.04 539.6,406.97C540.64,407.89 541.66,408.85 542.66,409.84C543.66,410.83 544.64,411.85 545.6,412.9C546.56,413.95 547.5,415.04 548.4,416.14C549.31,417.24 550.19,418.37 551.04,419.51C551.88,420.65 552.7,421.81 553.49,422.97C554.28,424.13 555.03,425.31 555.77,426.49C556.51,427.68 557.22,428.87 557.92,430.07C558.63,431.27 559.31,432.47 560,433.69C560.69,434.91 561.38,436.14 562.06,437.39C562.73,438.63 563.42,439.89 564.07,441.16C564.73,442.43 565.38,443.71 565.99,445C566.6,446.3 567.19,447.6 567.72,448.91C568.25,450.22 568.74,451.53 569.17,452.86C569.59,454.19 569.96,455.52 570.26,456.86C570.57,458.21 570.82,459.56 571.02,460.93C571.22,462.3 571.36,463.68 571.47,465.07C571.59,466.47 571.66,467.88 571.7,469.3C571.75,470.72 571.76,472.15 571.75,473.58C571.74,475.01 571.7,476.46 571.64,477.88C571.57,479.31 571.48,480.73 571.35,482.14C571.22,483.54 571.05,484.94 570.85,486.32C570.65,487.7 570.41,489.06 570.14,490.42C569.87,491.78 569.55,493.12 569.22,494.47C568.88,495.82 568.51,497.17 568.11,498.52C567.72,499.87 567.3,501.23 566.85,502.58C566.4,503.93 565.93,505.3 565.41,506.63C564.9,507.96 564.36,509.29 563.76,510.58C563.16,511.86 562.52,513.12 561.83,514.33C561.13,515.54 560.37,516.71 559.56,517.83C558.75,518.95 557.88,520.01 556.96,521.05C556.05,522.09 555.08,523.07 554.08,524.06C553.09,525.04 552.05,525.99 551.01,526.94C549.97,527.9 548.91,528.85 547.84,529.79C546.77,530.74 545.7,531.7 544.62,532.63C543.53,533.56 542.45,534.5 541.34,535.38C540.23,536.27 539.11,537.14 537.95,537.93C536.8,538.73 535.62,539.48 534.41,540.17C533.2,540.85 531.96,541.46 530.69,542.03C529.42,542.59 528.12,543.08 526.81,543.58C525.51,544.07 524.17,544.5 522.86,544.97C521.54,545.45 520.22,545.9 518.92,546.41C517.63,546.93 516.34,547.47 515.08,548.06C513.82,548.64 512.58,549.29 511.34,549.94C510.11,550.6 508.9,551.31 507.67,552C506.44,552.69 505.23,553.41 503.99,554.07C502.74,554.73 501.49,555.38 500.21,555.96C498.93,556.54 497.63,557.07 496.31,557.55C494.98,558.02 493.63,558.43 492.27,558.8C490.9,559.17 489.51,559.48 488.13,559.77C486.74,560.06 485.34,560.31 483.94,560.54C482.55,560.78 481.15,560.99 479.75,561.19C478.35,561.38 476.96,561.56 475.57,561.71C474.18,561.86 472.79,561.99 471.39,562.07C470,562.16 468.61,562.21 467.21,562.22C465.81,562.22 464.41,562.18 463.01,562.09C461.6,562 460.2,561.86 458.79,561.69C457.39,561.52 455.98,561.3 454.58,561.05C453.18,560.81 451.79,560.53 450.4,560.22C449.02,559.92 447.64,559.6 446.28,559.24C444.92,558.89 443.57,558.51 442.23,558.1C440.89,557.69 439.57,557.26 438.26,556.78C436.95,556.31 435.65,555.8 434.36,555.26C433.06,554.71 431.78,554.13 430.51,553.52C429.23,552.92 427.97,552.28 426.7,551.63C425.44,550.98 424.18,550.31 422.92,549.63C421.67,548.96 420.42,548.28 419.17,547.6C417.93,546.92 416.69,546.24 415.46,545.54C414.24,544.85 413.02,544.16 411.82,543.44C410.61,542.72 409.43,541.99 408.25,541.22C407.08,540.45 405.93,539.66 404.79,538.84C403.65,538.02 402.53,537.16 401.42,536.29C400.31,535.42 399.21,534.52 398.11,533.62C397.01,532.72 395.92,531.8 394.82,530.9C393.72,530 392.62,529.1 391.5,528.22C390.39,527.34 389.27,526.48 388.15,525.62C387.03,524.77 385.89,523.94 384.78,523.09C383.66,522.24 382.54,521.4 381.46,520.52C380.38,519.64 379.3,518.75 378.28,517.8C377.26,516.85 376.27,515.86 375.34,514.81C374.42,513.77 373.54,512.66 372.74,511.51C371.94,510.36 371.2,509.14 370.54,507.89C369.88,506.64 369.3,505.34 368.8,504.02C368.31,502.7 367.89,501.34 367.58,499.98C367.26,498.62 367.03,497.23 366.91,495.86C366.79,494.48 366.76,493.1 366.84,491.73C366.92,490.36 367.11,488.99 367.38,487.64C367.66,486.29 368.05,484.95 368.5,483.63C368.96,482.31 369.51,481 370.11,479.72C370.71,478.44 371.39,477.17 372.09,475.93C372.78,474.69 373.54,473.47 374.29,472.26C375.04,471.05 375.82,469.87 376.6,468.69C377.37,467.51 378.16,466.35 378.94,465.19C379.72,464.03 380.5,462.88 381.29,461.72C382.07,460.56 382.86,459.41 383.65,458.25C384.45,457.1 385.25,455.93 386.07,454.78C386.88,453.62 387.71,452.46 388.54,451.3C389.38,450.15 390.23,448.99 391.08,447.85C391.93,446.71 392.79,445.58 393.65,444.45C394.51,443.33 395.38,442.22 396.24,441.11C397.11,440 397.97,438.91 398.84,437.82C399.71,436.72 400.58,435.63 401.46,434.54C402.34,433.45 403.23,432.37 404.12,431.28C405.02,430.19 405.92,429.1 406.84,428.01C407.75,426.92 408.67,425.83 409.6,424.74C410.52,423.66 411.46,422.57 412.39,421.5C413.32,420.43 414.26,419.36 415.19,418.3C416.12,417.24 417.06,416.2 417.99,415.16C418.93,414.11 419.86,413.08 420.81,412.05C421.75,411.03 422.7,410 423.66,408.98C424.62,407.96 425.59,406.95 426.58,405.93C427.56,404.92 428.57,403.91 429.58,402.9C430.59,401.9 431.62,400.9 432.66,399.92C433.7,398.94 434.75,397.97 435.81,397.03C436.88,396.09 437.95,395.17 439.04,394.29C440.13,393.4 441.22,392.54 442.35,391.73C443.47,390.92 444.61,390.15 445.79,389.42C446.96,388.7 448.16,388.01 449.4,387.38C450.63,386.75 451.9,386.17 453.2,385.64C454.5,385.11 455.84,384.63 457.19,384.21C458.54,383.79 459.93,383.43 461.32,383.12C462.71,382.82 464.11,382.57 465.51,382.38C466.91,382.19 468.32,382.06 469.71,381.98Z" fill="#262626" filter="url(#fbA4)"/></g></g>
<rect x="557" y="582.8" width="34.2" height="4.2" fill="#000"/>
<text x="48.5" y="87" font-size="36.5">D24+8</text>
<text x="332.5" y="87" font-size="36.5">D91+8</text>
<text x="0" y="0" font-size="37" text-anchor="middle" transform="translate(27.9 169.5) rotate(-90)">Mock</text>
<text x="0" y="0" font-size="36" text-anchor="middle" transform="translate(28 452.3) rotate(-90)">+SA14</text>
<polygon points="0,0 -16,-6.8 -11,0 -16,6.8" fill="#fff" transform="translate(180 362.8) rotate(80)"/>
<polygon points="0,0 -16,-6.8 -11,0 -16,6.8" fill="#fff" transform="translate(111.8 466) rotate(-4)"/>
<polygon points="0,0 -16,-6.8 -11,0 -16,6.8" fill="#fff" transform="translate(255.2 479) rotate(173)"/>
<polygon points="0,0 -16,-6.8 -11,0 -16,6.8" fill="#fff" transform="translate(122.3 510.5) rotate(-27)"/>
<polygon points="0,0 -16,-6.8 -11,0 -16,6.8" fill="#fff" transform="translate(228 520) rotate(-156)"/>
<polygon points="0,0 -16,-6.8 -11,0 -16,6.8" fill="#fff" transform="translate(175.6 537.6) rotate(-64)"/>
<text x="715.2" y="34.6" font-size="48">b</text>
<line x1="836.4" y1="100" x2="836.4" y2="534.5" stroke="#000" stroke-width="4.5"/>
<line x1="825.3" y1="102" x2="836.4" y2="102" stroke="#000" stroke-width="3.2"/>
<line x1="830.2" y1="199.86" x2="836.4" y2="199.86" stroke="#000" stroke-width="2.8"/>
<line x1="830.2" y1="175.2" x2="836.4" y2="175.2" stroke="#000" stroke-width="2.8"/>
<line x1="830.2" y1="157.71" x2="836.4" y2="157.71" stroke="#000" stroke-width="2.8"/>
<line x1="830.2" y1="144.14" x2="836.4" y2="144.14" stroke="#000" stroke-width="2.8"/>
<line x1="830.2" y1="133.06" x2="836.4" y2="133.06" stroke="#000" stroke-width="2.8"/>
<line x1="830.2" y1="123.69" x2="836.4" y2="123.69" stroke="#000" stroke-width="2.8"/>
<line x1="830.2" y1="115.57" x2="836.4" y2="115.57" stroke="#000" stroke-width="2.8"/>
<line x1="830.2" y1="108.41" x2="836.4" y2="108.41" stroke="#000" stroke-width="2.8"/>
<line x1="825.3" y1="242" x2="836.4" y2="242" stroke="#000" stroke-width="3.2"/>
<line x1="830.2" y1="339.86" x2="836.4" y2="339.86" stroke="#000" stroke-width="2.8"/>
<line x1="830.2" y1="315.2" x2="836.4" y2="315.2" stroke="#000" stroke-width="2.8"/>
<line x1="830.2" y1="297.71" x2="836.4" y2="297.71" stroke="#000" stroke-width="2.8"/>
<line x1="830.2" y1="284.14" x2="836.4" y2="284.14" stroke="#000" stroke-width="2.8"/>
<line x1="830.2" y1="273.06" x2="836.4" y2="273.06" stroke="#000" stroke-width="2.8"/>
<line x1="830.2" y1="263.69" x2="836.4" y2="263.69" stroke="#000" stroke-width="2.8"/>
<line x1="830.2" y1="255.57" x2="836.4" y2="255.57" stroke="#000" stroke-width="2.8"/>
<line x1="830.2" y1="248.41" x2="836.4" y2="248.41" stroke="#000" stroke-width="2.8"/>
<line x1="825.3" y1="382" x2="836.4" y2="382" stroke="#000" stroke-width="3.2"/>
<line x1="830.2" y1="479.86" x2="836.4" y2="479.86" stroke="#000" stroke-width="2.8"/>
<line x1="830.2" y1="455.2" x2="836.4" y2="455.2" stroke="#000" stroke-width="2.8"/>
<line x1="830.2" y1="437.71" x2="836.4" y2="437.71" stroke="#000" stroke-width="2.8"/>
<line x1="830.2" y1="424.14" x2="836.4" y2="424.14" stroke="#000" stroke-width="2.8"/>
<line x1="830.2" y1="413.06" x2="836.4" y2="413.06" stroke="#000" stroke-width="2.8"/>
<line x1="830.2" y1="403.69" x2="836.4" y2="403.69" stroke="#000" stroke-width="2.8"/>
<line x1="830.2" y1="395.57" x2="836.4" y2="395.57" stroke="#000" stroke-width="2.8"/>
<line x1="830.2" y1="388.41" x2="836.4" y2="388.41" stroke="#000" stroke-width="2.8"/>
<line x1="825.3" y1="522.3" x2="836.4" y2="522.3" stroke="#000" stroke-width="3.2"/>
<text x="771.5" y="113.3" font-size="31" font-weight="bold">10</text>
<text x="809.5" y="102.6" font-size="19.5" font-weight="bold">7</text>
<text x="771.5" y="253.3" font-size="31" font-weight="bold">10</text>
<text x="809.5" y="242.6" font-size="19.5" font-weight="bold">6</text>
<text x="771.5" y="393.3" font-size="31" font-weight="bold">10</text>
<text x="809.5" y="382.6" font-size="19.5" font-weight="bold">5</text>
<text x="771.5" y="533.6" font-size="31" font-weight="bold">10</text>
<text x="809.5" y="522.9" font-size="19.5" font-weight="bold">4</text>
<line x1="825.3" y1="523.3" x2="1334.5" y2="523.3" stroke="#000" stroke-width="4"/>
<line x1="904.7" y1="523.3" x2="904.7" y2="537.4" stroke="#000" stroke-width="3.6"/>
<line x1="1007.4" y1="523.3" x2="1007.4" y2="537.4" stroke="#000" stroke-width="3.6"/>
<line x1="1104.2" y1="523.3" x2="1104.2" y2="537.4" stroke="#000" stroke-width="3.6"/>
<line x1="1206.8" y1="523.3" x2="1206.8" y2="537.4" stroke="#000" stroke-width="3.6"/>
<line x1="1312.6" y1="523.3" x2="1312.6" y2="537.4" stroke="#000" stroke-width="3.6"/>
<text x="837.1" y="569.7" font-size="31" font-weight="bold" text-anchor="middle">0</text>
<text x="904.2" y="569.7" font-size="31" font-weight="bold" text-anchor="middle">48</text>
<text x="1005.5" y="569.7" font-size="31" font-weight="bold" text-anchor="middle">72</text>
<text x="1105.5" y="569.7" font-size="31" font-weight="bold" text-anchor="middle">96</text>
<text x="1206.3" y="569.7" font-size="31" font-weight="bold" text-anchor="middle">120</text>
<text x="1306.8" y="569.7" font-size="31" font-weight="bold" text-anchor="middle">144</text>
<text x="1084.5" y="615.8" font-size="34.5" font-weight="bold" text-anchor="middle">Time post infection (hours)</text>
<text x="0" y="0" font-size="35" font-weight="bold" text-anchor="middle" transform="translate(744 313.5) rotate(-90)">JE Virus titers (Log PFU/ml)</text>
<polyline points="904.5,206.4 1105.9,176.6 1307.3,178.2" fill="none" stroke="#00ff08" stroke-width="4.2"/>
<circle cx="904.5" cy="206.4" r="10.3" fill="#00ff08"/>
<circle cx="1105.9" cy="176.6" r="10.3" fill="#00ff08"/>
<circle cx="1307.3" cy="178.2" r="10.3" fill="#00ff08"/>
<polyline points="904.5,304.6 1105.9,240.3 1307.3,250" fill="none" stroke="#0000ff" stroke-width="4.2"/>
<line x1="904.5" y1="293.7" x2="904.5" y2="315.6" stroke="#0000ff" stroke-width="3.5"/>
<line x1="896" y1="293.7" x2="913" y2="293.7" stroke="#0000ff" stroke-width="3.7"/>
<line x1="896" y1="315.6" x2="913" y2="315.6" stroke="#0000ff" stroke-width="3.7"/>
<rect x="894.15" y="294.25" width="20.7" height="20.7" fill="#0000ff" rx="3"/>
<rect x="1095.55" y="229.95" width="20.7" height="20.7" fill="#0000ff" rx="3"/>
<rect x="1296.95" y="239.65" width="20.7" height="20.7" fill="#0000ff" rx="3"/>
<polyline points="904.5,366.3 1105.9,291.8 1307.3,324.6" fill="none" stroke="#ff0000" stroke-width="4.2"/>
<line x1="1307.3" y1="313.9" x2="1307.3" y2="335.8" stroke="#ff0000" stroke-width="3.5"/>
<line x1="1298.8" y1="313.9" x2="1315.8" y2="313.9" stroke="#ff0000" stroke-width="3.7"/>
<line x1="1298.8" y1="335.8" x2="1315.8" y2="335.8" stroke="#ff0000" stroke-width="3.7"/>
<polygon points="904.5,358.2 896,374.4 913,374.4" fill="#ff0000" stroke="#ff0000" stroke-width="3" stroke-linejoin="round"/>
<polygon points="1105.9,283.7 1097.4,299.9 1114.4,299.9" fill="#ff0000" stroke="#ff0000" stroke-width="3" stroke-linejoin="round"/>
<polygon points="1307.3,316.5 1298.8,332.7 1315.8,332.7" fill="#ff0000" stroke="#ff0000" stroke-width="3" stroke-linejoin="round"/>
<polyline points="904.5,391 1105.9,344.8 1307.3,389.7" fill="none" stroke="#000" stroke-width="4.2"/>
<polygon points="904.5,399.1 896,382.9 913,382.9" fill="#000" stroke="#000" stroke-width="3" stroke-linejoin="round"/>
<polygon points="1105.9,352.9 1097.4,336.7 1114.4,336.7" fill="#000" stroke="#000" stroke-width="3" stroke-linejoin="round"/>
<polygon points="1307.3,397.8 1298.8,381.6 1315.8,381.6" fill="#000" stroke="#000" stroke-width="3" stroke-linejoin="round"/>
<line x1="917.8" y1="64.5" x2="963.2" y2="64.5" stroke="#00ff08" stroke-width="4.2"/>
<circle cx="940.5" cy="64.5" r="10.3" fill="#00ff08"/>
<text x="989" y="75.8" font-size="33.5" font-weight="bold">D9</text>
<line x1="917.8" y1="112.6" x2="963.2" y2="112.6" stroke="#0000ff" stroke-width="4.2"/>
<rect x="930.15" y="102.25" width="20.7" height="20.7" fill="#0000ff" rx="3"/>
<text x="989" y="123.7" font-size="33.5" font-weight="bold">D24</text>
<line x1="1131.9" y1="62.3" x2="1177.3" y2="62.3" stroke="#ff0000" stroke-width="4.2"/>
<polygon points="1154.6,54.2 1146.1,70.4 1163.1,70.4" fill="#ff0000" stroke="#ff0000" stroke-width="3" stroke-linejoin="round"/>
<text x="1203.5" y="73.8" font-size="33.5" font-weight="bold">D55</text>
<line x1="1131.9" y1="110.5" x2="1177.3" y2="110.5" stroke="#000" stroke-width="4.2"/>
<polygon points="1154.6,118.6 1146.1,102.4 1163.1,102.4" fill="#000" stroke="#000" stroke-width="3" stroke-linejoin="round"/>
<text x="1203.5" y="122.2" font-size="33.5" font-weight="bold">D91</text>
<text x="1364.5" y="1222" font-size="48.5">i</text>
<text x="1547.7" y="1308.9" font-size="28.3" text-anchor="middle">D24</text>
<text x="1775.5" y="1308.9" font-size="28.3" text-anchor="middle">D100</text>
<line x1="1450.7" y1="1332.5" x2="1644.1" y2="1332.5" stroke="#000" stroke-width="4"/>
<line x1="1679.9" y1="1332.5" x2="1872.5" y2="1332.5" stroke="#000" stroke-width="4"/>
<text x="1450" y="1365.5" font-size="28">Mock</text>
<text x="1558.5" y="1365.5" font-size="28">+SA14</text>
<text x="1681" y="1365.5" font-size="28">Mock</text>
<text x="1789.3" y="1365.5" font-size="28">+SA14</text>
<text x="1426.5" y="1415.4" font-size="28" font-weight="bold" text-anchor="end">RIG-I</text>
<text x="1425.5" y="1499.1" font-size="28" font-weight="bold" text-anchor="end">p-STAT1</text>
<text x="1426.5" y="1585.9" font-size="28" font-weight="bold" text-anchor="end">GAPDH</text>
<text x="1889.5" y="1414.7" font-size="28">102KD</text>
<text x="1889.5" y="1499.8" font-size="28">91KD</text>
<text x="1889.5" y="1585.5" font-size="28">37KD</text>
<g clip-path="url(#cw0)"><rect x="1435.1" y="1376.8" width="447.6" height="67.3" fill="url(#wb0)"/><rect x="1435.1" y="1376.8" width="447.6" height="67.3" filter="url(#wm)" opacity="0.5"/><rect x="1436" y="1378" width="34" height="65" rx="10" fill="#b4b4b4" opacity="0.6" filter="url(#b4)"/><rect x="1520" y="1378" width="40" height="65" rx="10" fill="#d6d6d6" opacity="0.8" filter="url(#b4)"/><rect x="1645" y="1378" width="45" height="65" rx="10" fill="#d6d6d6" opacity="0.8" filter="url(#b4)"/><rect x="1436" y="1374" width="447" height="7" rx="3" fill="#a0a0a0" opacity="0.7" filter="url(#b3)"/><rect x="1566" y="1388" width="48" height="40" rx="14" fill="#383838" opacity="0.92" filter="url(#b4)"/><rect x="1592" y="1396" width="54" height="30" rx="12" fill="#606060" opacity="0.85" filter="url(#b4)"/><rect x="1560" y="1420" width="90" height="24" rx="12" fill="#9a9a9a" opacity="0.5" filter="url(#b4)"/><rect x="1690" y="1385" width="18" height="40" rx="6" fill="#959595" opacity="0.6" filter="url(#b3)"/><rect x="1738" y="1392" width="14" height="36" rx="6" fill="#a0a0a0" opacity="0.5" filter="url(#b3)"/><rect x="1700" y="1378" width="70" height="12" rx="6" fill="#a8a8a8" opacity="0.6" filter="url(#b3)"/><rect x="1770" y="1378" width="113" height="66" rx="10" fill="#8c8c8c" opacity="0.7" filter="url(#b4)"/><rect x="1786" y="1400" width="74" height="40" rx="12" fill="#303030" opacity="0.75" filter="url(#b4)"/><rect x="1782" y="1391" width="87" height="33" rx="12" fill="#000000" opacity="1" filter="url(#b3)"/><rect x="1435.1" y="1376.8" width="447.6" height="67.3" filter="url(#wn)" opacity="0.25"/></g>
<g clip-path="url(#cw1)"><rect x="1435.1" y="1458.7" width="447.6" height="66.8" fill="url(#wb1)"/><rect x="1435.1" y="1458.7" width="447.6" height="66.8" filter="url(#wm)" opacity="0.3"/><rect x="1441" y="1486" width="95" height="12" rx="5" fill="#b0b0b0" opacity="0.8" filter="url(#b3)"/><rect x="1480" y="1485" width="56" height="14" rx="5" fill="#8a8a8a" opacity="0.7" filter="url(#b3)"/><rect x="1548" y="1462" width="108" height="63" rx="10" fill="#b8b8b8" opacity="0.6" filter="url(#b4)"/><rect x="1557" y="1477" width="91" height="29" rx="12" fill="#000000" opacity="1" filter="url(#b3)"/><rect x="1672" y="1487" width="85" height="11" rx="5" fill="#b4b4b4" opacity="0.7" filter="url(#b3)"/><rect x="1768" y="1462" width="112" height="63" rx="10" fill="#b0b0b0" opacity="0.6" filter="url(#b4)"/><rect x="1779" y="1480" width="90" height="24" rx="10" fill="#151515" opacity="1" filter="url(#b3)"/><rect x="1435.1" y="1458.7" width="447.6" height="66.8" filter="url(#wn)" opacity="0.25"/></g>
<g clip-path="url(#cw2)"><rect x="1435.1" y="1539.6" width="447.6" height="67.2" fill="url(#wb2)"/><rect x="1435.1" y="1539.6" width="447.6" height="67.2" filter="url(#wm)" opacity="0.4"/><rect x="1437" y="1545" width="443" height="55" rx="10" fill="#a8a8a8" opacity="0.45" filter="url(#b4)"/><rect x="1440" y="1562" width="107" height="22" rx="10" fill="#000000" opacity="1" filter="url(#b3)"/><rect x="1556" y="1563" width="103" height="18" rx="9" fill="#141414" opacity="1" filter="url(#b3)"/><rect x="1668" y="1563" width="98" height="19" rx="9" fill="#111111" opacity="1" filter="url(#b3)"/><rect x="1776" y="1565" width="98" height="18" rx="9" fill="#1a1a1a" opacity="1" filter="url(#b3)"/><rect x="1850" y="1570" width="26" height="20" rx="9" fill="#000000" opacity="1" filter="url(#b3)"/><rect x="1435.1" y="1539.6" width="447.6" height="67.2" filter="url(#wn)" opacity="0.25"/></g>
</svg>
</body></html>
